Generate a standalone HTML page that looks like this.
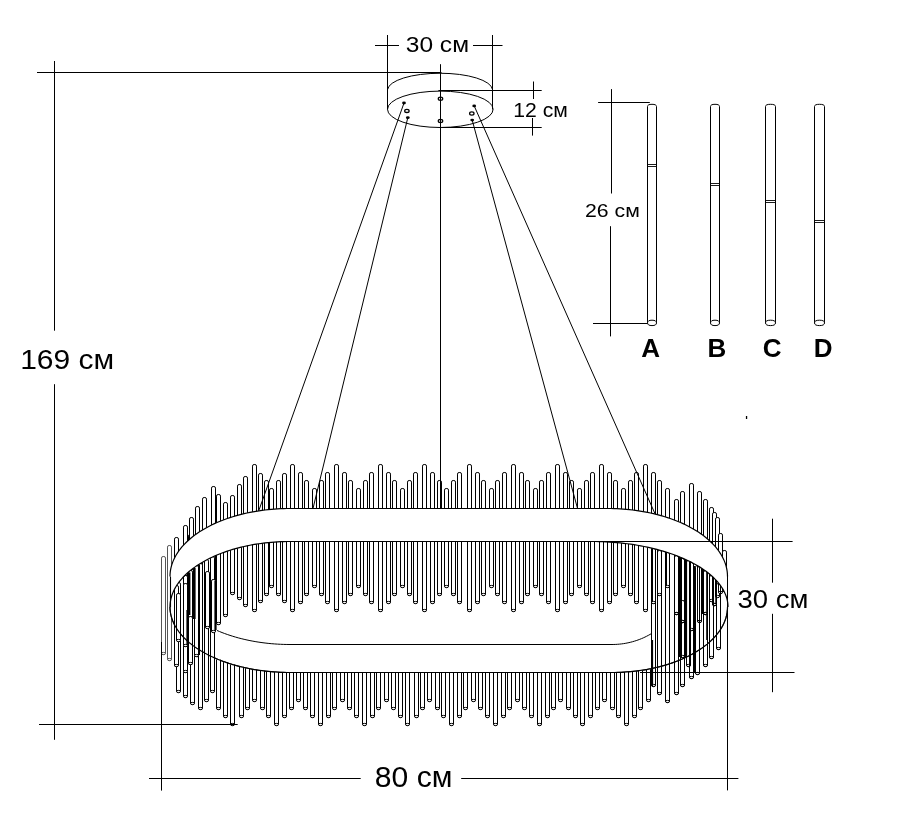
<!DOCTYPE html>
<html><head><meta charset="utf-8"><title>diagram</title>
<style>html,body{margin:0;padding:0;background:#fff;}body{width:915px;height:821px;position:relative;overflow:hidden;font-family:"Liberation Sans",sans-serif;}</style></head>
<body>
<svg width="915" height="821" viewBox="0 0 915 821" style="position:absolute;left:0;top:0;will-change:transform">
<rect width="915" height="821" fill="#fff"/>
<path d="M161.50,653.50 L161.50,558.10 Q161.50,556.50 163.10,556.50 L163.90,556.50 Q165.50,556.50 165.50,558.10 L165.50,653.50 A2.00,1.1 0 0 1 161.50,653.50" fill="#fff" stroke="#555" stroke-width="1.0"/>
<ellipse cx="163.50" cy="653.50" rx="2.00" ry="1.1" fill="#fff" stroke="#555" stroke-width="1.0"/>
<path d="M167.50,659.50 L167.50,547.10 Q167.50,545.50 169.10,545.50 L169.90,545.50 Q171.50,545.50 171.50,547.10 L171.50,659.50 A2.00,1.1 0 0 1 167.50,659.50" fill="#fff" stroke="#555" stroke-width="1.0"/>
<ellipse cx="169.50" cy="659.50" rx="2.00" ry="1.1" fill="#fff" stroke="#555" stroke-width="1.0"/>
<path d="M290.50,610.50 L290.50,466.10 Q290.50,464.50 292.10,464.50 L292.90,464.50 Q294.50,464.50 294.50,466.10 L294.50,610.50 A2.00,1.1 0 0 1 290.50,610.50" fill="#fff" stroke="#000" stroke-width="1.0"/>
<ellipse cx="292.50" cy="610.50" rx="2.00" ry="1.1" fill="#fff" stroke="#000" stroke-width="1.0"/>
<path d="M298.50,602.50 L298.50,474.10 Q298.50,472.50 300.10,472.50 L300.90,472.50 Q302.50,472.50 302.50,474.10 L302.50,602.50 A2.00,1.1 0 0 1 298.50,602.50" fill="#fff" stroke="#000" stroke-width="1.0"/>
<ellipse cx="300.50" cy="602.50" rx="2.00" ry="1.1" fill="#fff" stroke="#000" stroke-width="1.0"/>
<path d="M304.50,594.50 L304.50,482.10 Q304.50,480.50 306.10,480.50 L306.90,480.50 Q308.50,480.50 308.50,482.10 L308.50,594.50 A2.00,1.1 0 0 1 304.50,594.50" fill="#fff" stroke="#000" stroke-width="1.0"/>
<ellipse cx="306.50" cy="594.50" rx="2.00" ry="1.1" fill="#fff" stroke="#000" stroke-width="1.0"/>
<path d="M312.50,586.50 L312.50,490.10 Q312.50,488.50 314.10,488.50 L314.90,488.50 Q316.50,488.50 316.50,490.10 L316.50,586.50 A2.00,1.1 0 0 1 312.50,586.50" fill="#fff" stroke="#000" stroke-width="1.0"/>
<ellipse cx="314.50" cy="586.50" rx="2.00" ry="1.1" fill="#fff" stroke="#000" stroke-width="1.0"/>
<path d="M319.50,594.50 L319.50,482.10 Q319.50,480.50 321.10,480.50 L321.90,480.50 Q323.50,480.50 323.50,482.10 L323.50,594.50 A2.00,1.1 0 0 1 319.50,594.50" fill="#fff" stroke="#000" stroke-width="1.0"/>
<ellipse cx="321.50" cy="594.50" rx="2.00" ry="1.1" fill="#fff" stroke="#000" stroke-width="1.0"/>
<path d="M325.50,602.50 L325.50,474.10 Q325.50,472.50 327.10,472.50 L327.90,472.50 Q329.50,472.50 329.50,474.10 L329.50,602.50 A2.00,1.1 0 0 1 325.50,602.50" fill="#fff" stroke="#000" stroke-width="1.0"/>
<ellipse cx="327.50" cy="602.50" rx="2.00" ry="1.1" fill="#fff" stroke="#000" stroke-width="1.0"/>
<path d="M334.50,610.50 L334.50,466.10 Q334.50,464.50 336.10,464.50 L336.90,464.50 Q338.50,464.50 338.50,466.10 L338.50,610.50 A2.00,1.1 0 0 1 334.50,610.50" fill="#fff" stroke="#000" stroke-width="1.0"/>
<ellipse cx="336.50" cy="610.50" rx="2.00" ry="1.1" fill="#fff" stroke="#000" stroke-width="1.0"/>
<path d="M342.50,602.50 L342.50,474.10 Q342.50,472.50 344.10,472.50 L344.90,472.50 Q346.50,472.50 346.50,474.10 L346.50,602.50 A2.00,1.1 0 0 1 342.50,602.50" fill="#fff" stroke="#000" stroke-width="1.0"/>
<ellipse cx="344.50" cy="602.50" rx="2.00" ry="1.1" fill="#fff" stroke="#000" stroke-width="1.0"/>
<path d="M348.50,594.50 L348.50,482.10 Q348.50,480.50 350.10,480.50 L350.90,480.50 Q352.50,480.50 352.50,482.10 L352.50,594.50 A2.00,1.1 0 0 1 348.50,594.50" fill="#fff" stroke="#000" stroke-width="1.0"/>
<ellipse cx="350.50" cy="594.50" rx="2.00" ry="1.1" fill="#fff" stroke="#000" stroke-width="1.0"/>
<path d="M356.50,586.50 L356.50,490.10 Q356.50,488.50 358.10,488.50 L358.90,488.50 Q360.50,488.50 360.50,490.10 L360.50,586.50 A2.00,1.1 0 0 1 356.50,586.50" fill="#fff" stroke="#000" stroke-width="1.0"/>
<ellipse cx="358.50" cy="586.50" rx="2.00" ry="1.1" fill="#fff" stroke="#000" stroke-width="1.0"/>
<path d="M363.50,594.50 L363.50,482.10 Q363.50,480.50 365.10,480.50 L365.90,480.50 Q367.50,480.50 367.50,482.10 L367.50,594.50 A2.00,1.1 0 0 1 363.50,594.50" fill="#fff" stroke="#000" stroke-width="1.0"/>
<ellipse cx="365.50" cy="594.50" rx="2.00" ry="1.1" fill="#fff" stroke="#000" stroke-width="1.0"/>
<path d="M369.50,602.50 L369.50,474.10 Q369.50,472.50 371.10,472.50 L371.90,472.50 Q373.50,472.50 373.50,474.10 L373.50,602.50 A2.00,1.1 0 0 1 369.50,602.50" fill="#fff" stroke="#000" stroke-width="1.0"/>
<ellipse cx="371.50" cy="602.50" rx="2.00" ry="1.1" fill="#fff" stroke="#000" stroke-width="1.0"/>
<path d="M378.50,610.50 L378.50,466.10 Q378.50,464.50 380.10,464.50 L380.90,464.50 Q382.50,464.50 382.50,466.10 L382.50,610.50 A2.00,1.1 0 0 1 378.50,610.50" fill="#fff" stroke="#000" stroke-width="1.0"/>
<ellipse cx="380.50" cy="610.50" rx="2.00" ry="1.1" fill="#fff" stroke="#000" stroke-width="1.0"/>
<path d="M386.50,602.50 L386.50,474.10 Q386.50,472.50 388.10,472.50 L388.90,472.50 Q390.50,472.50 390.50,474.10 L390.50,602.50 A2.00,1.1 0 0 1 386.50,602.50" fill="#fff" stroke="#000" stroke-width="1.0"/>
<ellipse cx="388.50" cy="602.50" rx="2.00" ry="1.1" fill="#fff" stroke="#000" stroke-width="1.0"/>
<path d="M392.50,594.50 L392.50,482.10 Q392.50,480.50 394.10,480.50 L394.90,480.50 Q396.50,480.50 396.50,482.10 L396.50,594.50 A2.00,1.1 0 0 1 392.50,594.50" fill="#fff" stroke="#000" stroke-width="1.0"/>
<ellipse cx="394.50" cy="594.50" rx="2.00" ry="1.1" fill="#fff" stroke="#000" stroke-width="1.0"/>
<path d="M400.50,586.50 L400.50,490.10 Q400.50,488.50 402.10,488.50 L402.90,488.50 Q404.50,488.50 404.50,490.10 L404.50,586.50 A2.00,1.1 0 0 1 400.50,586.50" fill="#fff" stroke="#000" stroke-width="1.0"/>
<ellipse cx="402.50" cy="586.50" rx="2.00" ry="1.1" fill="#fff" stroke="#000" stroke-width="1.0"/>
<path d="M407.50,594.50 L407.50,482.10 Q407.50,480.50 409.10,480.50 L409.90,480.50 Q411.50,480.50 411.50,482.10 L411.50,594.50 A2.00,1.1 0 0 1 407.50,594.50" fill="#fff" stroke="#000" stroke-width="1.0"/>
<ellipse cx="409.50" cy="594.50" rx="2.00" ry="1.1" fill="#fff" stroke="#000" stroke-width="1.0"/>
<path d="M413.50,602.50 L413.50,474.10 Q413.50,472.50 415.10,472.50 L415.90,472.50 Q417.50,472.50 417.50,474.10 L417.50,602.50 A2.00,1.1 0 0 1 413.50,602.50" fill="#fff" stroke="#000" stroke-width="1.0"/>
<ellipse cx="415.50" cy="602.50" rx="2.00" ry="1.1" fill="#fff" stroke="#000" stroke-width="1.0"/>
<path d="M422.50,610.50 L422.50,466.10 Q422.50,464.50 424.10,464.50 L424.90,464.50 Q426.50,464.50 426.50,466.10 L426.50,610.50 A2.00,1.1 0 0 1 422.50,610.50" fill="#fff" stroke="#000" stroke-width="1.0"/>
<ellipse cx="424.50" cy="610.50" rx="2.00" ry="1.1" fill="#fff" stroke="#000" stroke-width="1.0"/>
<path d="M430.50,602.50 L430.50,474.10 Q430.50,472.50 432.10,472.50 L432.90,472.50 Q434.50,472.50 434.50,474.10 L434.50,602.50 A2.00,1.1 0 0 1 430.50,602.50" fill="#fff" stroke="#000" stroke-width="1.0"/>
<ellipse cx="432.50" cy="602.50" rx="2.00" ry="1.1" fill="#fff" stroke="#000" stroke-width="1.0"/>
<path d="M437.50,594.50 L437.50,482.10 Q437.50,480.50 439.10,480.50 L439.90,480.50 Q441.50,480.50 441.50,482.10 L441.50,594.50 A2.00,1.1 0 0 1 437.50,594.50" fill="#fff" stroke="#000" stroke-width="1.0"/>
<ellipse cx="439.50" cy="594.50" rx="2.00" ry="1.1" fill="#fff" stroke="#000" stroke-width="1.0"/>
<path d="M444.50,586.50 L444.50,490.10 Q444.50,488.50 446.10,488.50 L446.90,488.50 Q448.50,488.50 448.50,490.10 L448.50,586.50 A2.00,1.1 0 0 1 444.50,586.50" fill="#fff" stroke="#000" stroke-width="1.0"/>
<ellipse cx="446.50" cy="586.50" rx="2.00" ry="1.1" fill="#fff" stroke="#000" stroke-width="1.0"/>
<path d="M451.50,594.50 L451.50,482.10 Q451.50,480.50 453.10,480.50 L453.90,480.50 Q455.50,480.50 455.50,482.10 L455.50,594.50 A2.00,1.1 0 0 1 451.50,594.50" fill="#fff" stroke="#000" stroke-width="1.0"/>
<ellipse cx="453.50" cy="594.50" rx="2.00" ry="1.1" fill="#fff" stroke="#000" stroke-width="1.0"/>
<path d="M457.50,602.50 L457.50,474.10 Q457.50,472.50 459.10,472.50 L459.90,472.50 Q461.50,472.50 461.50,474.10 L461.50,602.50 A2.00,1.1 0 0 1 457.50,602.50" fill="#fff" stroke="#000" stroke-width="1.0"/>
<ellipse cx="459.50" cy="602.50" rx="2.00" ry="1.1" fill="#fff" stroke="#000" stroke-width="1.0"/>
<path d="M467.50,610.50 L467.50,466.10 Q467.50,464.50 469.10,464.50 L469.90,464.50 Q471.50,464.50 471.50,466.10 L471.50,610.50 A2.00,1.1 0 0 1 467.50,610.50" fill="#fff" stroke="#000" stroke-width="1.0"/>
<ellipse cx="469.50" cy="610.50" rx="2.00" ry="1.1" fill="#fff" stroke="#000" stroke-width="1.0"/>
<path d="M475.50,602.50 L475.50,474.10 Q475.50,472.50 477.10,472.50 L477.90,472.50 Q479.50,472.50 479.50,474.10 L479.50,602.50 A2.00,1.1 0 0 1 475.50,602.50" fill="#fff" stroke="#000" stroke-width="1.0"/>
<ellipse cx="477.50" cy="602.50" rx="2.00" ry="1.1" fill="#fff" stroke="#000" stroke-width="1.0"/>
<path d="M481.50,594.50 L481.50,482.10 Q481.50,480.50 483.10,480.50 L483.90,480.50 Q485.50,480.50 485.50,482.10 L485.50,594.50 A2.00,1.1 0 0 1 481.50,594.50" fill="#fff" stroke="#000" stroke-width="1.0"/>
<ellipse cx="483.50" cy="594.50" rx="2.00" ry="1.1" fill="#fff" stroke="#000" stroke-width="1.0"/>
<path d="M489.50,586.50 L489.50,490.10 Q489.50,488.50 491.10,488.50 L491.90,488.50 Q493.50,488.50 493.50,490.10 L493.50,586.50 A2.00,1.1 0 0 1 489.50,586.50" fill="#fff" stroke="#000" stroke-width="1.0"/>
<ellipse cx="491.50" cy="586.50" rx="2.00" ry="1.1" fill="#fff" stroke="#000" stroke-width="1.0"/>
<path d="M495.50,594.50 L495.50,482.10 Q495.50,480.50 497.10,480.50 L497.90,480.50 Q499.50,480.50 499.50,482.10 L499.50,594.50 A2.00,1.1 0 0 1 495.50,594.50" fill="#fff" stroke="#000" stroke-width="1.0"/>
<ellipse cx="497.50" cy="594.50" rx="2.00" ry="1.1" fill="#fff" stroke="#000" stroke-width="1.0"/>
<path d="M502.50,602.50 L502.50,474.10 Q502.50,472.50 504.10,472.50 L504.90,472.50 Q506.50,472.50 506.50,474.10 L506.50,602.50 A2.00,1.1 0 0 1 502.50,602.50" fill="#fff" stroke="#000" stroke-width="1.0"/>
<ellipse cx="504.50" cy="602.50" rx="2.00" ry="1.1" fill="#fff" stroke="#000" stroke-width="1.0"/>
<path d="M511.50,610.50 L511.50,466.10 Q511.50,464.50 513.10,464.50 L513.90,464.50 Q515.50,464.50 515.50,466.10 L515.50,610.50 A2.00,1.1 0 0 1 511.50,610.50" fill="#fff" stroke="#000" stroke-width="1.0"/>
<ellipse cx="513.50" cy="610.50" rx="2.00" ry="1.1" fill="#fff" stroke="#000" stroke-width="1.0"/>
<path d="M519.50,602.50 L519.50,474.10 Q519.50,472.50 521.10,472.50 L521.90,472.50 Q523.50,472.50 523.50,474.10 L523.50,602.50 A2.00,1.1 0 0 1 519.50,602.50" fill="#fff" stroke="#000" stroke-width="1.0"/>
<ellipse cx="521.50" cy="602.50" rx="2.00" ry="1.1" fill="#fff" stroke="#000" stroke-width="1.0"/>
<path d="M525.50,594.50 L525.50,482.10 Q525.50,480.50 527.10,480.50 L527.90,480.50 Q529.50,480.50 529.50,482.10 L529.50,594.50 A2.00,1.1 0 0 1 525.50,594.50" fill="#fff" stroke="#000" stroke-width="1.0"/>
<ellipse cx="527.50" cy="594.50" rx="2.00" ry="1.1" fill="#fff" stroke="#000" stroke-width="1.0"/>
<path d="M533.50,586.50 L533.50,490.10 Q533.50,488.50 535.10,488.50 L535.90,488.50 Q537.50,488.50 537.50,490.10 L537.50,586.50 A2.00,1.1 0 0 1 533.50,586.50" fill="#fff" stroke="#000" stroke-width="1.0"/>
<ellipse cx="535.50" cy="586.50" rx="2.00" ry="1.1" fill="#fff" stroke="#000" stroke-width="1.0"/>
<path d="M539.50,594.50 L539.50,482.10 Q539.50,480.50 541.10,480.50 L541.90,480.50 Q543.50,480.50 543.50,482.10 L543.50,594.50 A2.00,1.1 0 0 1 539.50,594.50" fill="#fff" stroke="#000" stroke-width="1.0"/>
<ellipse cx="541.50" cy="594.50" rx="2.00" ry="1.1" fill="#fff" stroke="#000" stroke-width="1.0"/>
<path d="M546.50,602.50 L546.50,474.10 Q546.50,472.50 548.10,472.50 L548.90,472.50 Q550.50,472.50 550.50,474.10 L550.50,602.50 A2.00,1.1 0 0 1 546.50,602.50" fill="#fff" stroke="#000" stroke-width="1.0"/>
<ellipse cx="548.50" cy="602.50" rx="2.00" ry="1.1" fill="#fff" stroke="#000" stroke-width="1.0"/>
<path d="M555.50,610.50 L555.50,466.10 Q555.50,464.50 557.10,464.50 L557.90,464.50 Q559.50,464.50 559.50,466.10 L559.50,610.50 A2.00,1.1 0 0 1 555.50,610.50" fill="#fff" stroke="#000" stroke-width="1.0"/>
<ellipse cx="557.50" cy="610.50" rx="2.00" ry="1.1" fill="#fff" stroke="#000" stroke-width="1.0"/>
<path d="M563.50,602.50 L563.50,474.10 Q563.50,472.50 565.10,472.50 L565.90,472.50 Q567.50,472.50 567.50,474.10 L567.50,602.50 A2.00,1.1 0 0 1 563.50,602.50" fill="#fff" stroke="#000" stroke-width="1.0"/>
<ellipse cx="565.50" cy="602.50" rx="2.00" ry="1.1" fill="#fff" stroke="#000" stroke-width="1.0"/>
<path d="M569.50,594.50 L569.50,482.10 Q569.50,480.50 571.10,480.50 L571.90,480.50 Q573.50,480.50 573.50,482.10 L573.50,594.50 A2.00,1.1 0 0 1 569.50,594.50" fill="#fff" stroke="#000" stroke-width="1.0"/>
<ellipse cx="571.50" cy="594.50" rx="2.00" ry="1.1" fill="#fff" stroke="#000" stroke-width="1.0"/>
<path d="M577.50,586.50 L577.50,490.10 Q577.50,488.50 579.10,488.50 L579.90,488.50 Q581.50,488.50 581.50,490.10 L581.50,586.50 A2.00,1.1 0 0 1 577.50,586.50" fill="#fff" stroke="#000" stroke-width="1.0"/>
<ellipse cx="579.50" cy="586.50" rx="2.00" ry="1.1" fill="#fff" stroke="#000" stroke-width="1.0"/>
<path d="M584.50,594.50 L584.50,482.10 Q584.50,480.50 586.10,480.50 L586.90,480.50 Q588.50,480.50 588.50,482.10 L588.50,594.50 A2.00,1.1 0 0 1 584.50,594.50" fill="#fff" stroke="#000" stroke-width="1.0"/>
<ellipse cx="586.50" cy="594.50" rx="2.00" ry="1.1" fill="#fff" stroke="#000" stroke-width="1.0"/>
<path d="M590.50,602.50 L590.50,474.10 Q590.50,472.50 592.10,472.50 L592.90,472.50 Q594.50,472.50 594.50,474.10 L594.50,602.50 A2.00,1.1 0 0 1 590.50,602.50" fill="#fff" stroke="#000" stroke-width="1.0"/>
<ellipse cx="592.50" cy="602.50" rx="2.00" ry="1.1" fill="#fff" stroke="#000" stroke-width="1.0"/>
<path d="M599.50,610.50 L599.50,466.10 Q599.50,464.50 601.10,464.50 L601.90,464.50 Q603.50,464.50 603.50,466.10 L603.50,610.50 A2.00,1.1 0 0 1 599.50,610.50" fill="#fff" stroke="#000" stroke-width="1.0"/>
<ellipse cx="601.50" cy="610.50" rx="2.00" ry="1.1" fill="#fff" stroke="#000" stroke-width="1.0"/>
<path d="M607.50,602.50 L607.50,474.10 Q607.50,472.50 609.10,472.50 L609.90,472.50 Q611.50,472.50 611.50,474.10 L611.50,602.50 A2.00,1.1 0 0 1 607.50,602.50" fill="#fff" stroke="#000" stroke-width="1.0"/>
<ellipse cx="609.50" cy="602.50" rx="2.00" ry="1.1" fill="#fff" stroke="#000" stroke-width="1.0"/>
<path d="M613.50,594.50 L613.50,482.10 Q613.50,480.50 615.10,480.50 L615.90,480.50 Q617.50,480.50 617.50,482.10 L617.50,594.50 A2.00,1.1 0 0 1 613.50,594.50" fill="#fff" stroke="#000" stroke-width="1.0"/>
<ellipse cx="615.50" cy="594.50" rx="2.00" ry="1.1" fill="#fff" stroke="#000" stroke-width="1.0"/>
<path d="M621.50,586.50 L621.50,490.10 Q621.50,488.50 623.10,488.50 L623.90,488.50 Q625.50,488.50 625.50,490.10 L625.50,586.50 A2.00,1.1 0 0 1 621.50,586.50" fill="#fff" stroke="#000" stroke-width="1.0"/>
<ellipse cx="623.50" cy="586.50" rx="2.00" ry="1.1" fill="#fff" stroke="#000" stroke-width="1.0"/>
<path d="M628.50,594.50 L628.50,482.10 Q628.50,480.50 630.10,480.50 L630.90,480.50 Q632.50,480.50 632.50,482.10 L632.50,594.50 A2.00,1.1 0 0 1 628.50,594.50" fill="#fff" stroke="#000" stroke-width="1.0"/>
<ellipse cx="630.50" cy="594.50" rx="2.00" ry="1.1" fill="#fff" stroke="#000" stroke-width="1.0"/>
<path d="M634.50,602.50 L634.50,474.10 Q634.50,472.50 636.10,472.50 L636.90,472.50 Q638.50,472.50 638.50,474.10 L638.50,602.50 A2.00,1.1 0 0 1 634.50,602.50" fill="#fff" stroke="#000" stroke-width="1.0"/>
<ellipse cx="636.50" cy="602.50" rx="2.00" ry="1.1" fill="#fff" stroke="#000" stroke-width="1.0"/>
<path d="M643.50,610.50 L643.50,466.10 Q643.50,464.50 645.10,464.50 L645.90,464.50 Q647.50,464.50 647.50,466.10 L647.50,610.50 A2.00,1.1 0 0 1 643.50,610.50" fill="#fff" stroke="#000" stroke-width="1.0"/>
<ellipse cx="645.50" cy="610.50" rx="2.00" ry="1.1" fill="#fff" stroke="#000" stroke-width="1.0"/>
<path d="M651.50,602.50 L651.50,474.10 Q651.50,472.50 653.10,472.50 L653.90,472.50 Q655.50,472.50 655.50,474.10 L655.50,602.50 A2.00,1.1 0 0 1 651.50,602.50" fill="#fff" stroke="#000" stroke-width="1.0"/>
<ellipse cx="653.50" cy="602.50" rx="2.00" ry="1.1" fill="#fff" stroke="#000" stroke-width="1.0"/>
<path d="M657.50,594.50 L657.50,482.10 Q657.50,480.50 659.10,480.50 L659.90,480.50 Q661.50,480.50 661.50,482.10 L661.50,594.50 A2.00,1.1 0 0 1 657.50,594.50" fill="#fff" stroke="#000" stroke-width="1.0"/>
<ellipse cx="659.50" cy="594.50" rx="2.00" ry="1.1" fill="#fff" stroke="#000" stroke-width="1.0"/>
<path d="M665.50,586.50 L665.50,490.10 Q665.50,488.50 667.10,488.50 L667.90,488.50 Q669.50,488.50 669.50,490.10 L669.50,586.50 A2.00,1.1 0 0 1 665.50,586.50" fill="#fff" stroke="#000" stroke-width="1.0"/>
<ellipse cx="667.50" cy="586.50" rx="2.00" ry="1.1" fill="#fff" stroke="#000" stroke-width="1.0"/>
<path d="M188.50,575.50 L188.50,536.10 Q188.50,534.50 190.10,534.50 L190.90,534.50 Q192.50,534.50 192.50,536.10 L192.50,575.50 A2.00,1.1 0 0 1 188.50,575.50" fill="#fff" stroke="#000" stroke-width="1.0"/>
<ellipse cx="190.50" cy="575.50" rx="2.00" ry="1.1" fill="#fff" stroke="#000" stroke-width="1.0"/>
<path d="M252.50,610.50 L252.50,466.10 Q252.50,464.50 254.10,464.50 L254.90,464.50 Q256.50,464.50 256.50,466.10 L256.50,610.50 A2.00,1.1 0 0 1 252.50,610.50" fill="#fff" stroke="#000" stroke-width="1.0"/>
<ellipse cx="254.50" cy="610.50" rx="2.00" ry="1.1" fill="#fff" stroke="#000" stroke-width="1.0"/>
<path d="M258.50,601.50 L258.50,475.10 Q258.50,473.50 260.10,473.50 L260.90,473.50 Q262.50,473.50 262.50,475.10 L262.50,601.50 A2.00,1.1 0 0 1 258.50,601.50" fill="#fff" stroke="#000" stroke-width="1.0"/>
<ellipse cx="260.50" cy="601.50" rx="2.00" ry="1.1" fill="#fff" stroke="#000" stroke-width="1.0"/>
<path d="M264.50,594.50 L264.50,482.10 Q264.50,480.50 266.10,480.50 L266.90,480.50 Q268.50,480.50 268.50,482.10 L268.50,594.50 A2.00,1.1 0 0 1 264.50,594.50" fill="#fff" stroke="#000" stroke-width="1.0"/>
<ellipse cx="266.50" cy="594.50" rx="2.00" ry="1.1" fill="#fff" stroke="#000" stroke-width="1.0"/>
<path d="M269.50,586.50 L269.50,490.10 Q269.50,488.50 271.10,488.50 L271.90,488.50 Q273.50,488.50 273.50,490.10 L273.50,586.50 A2.00,1.1 0 0 1 269.50,586.50" fill="#fff" stroke="#000" stroke-width="1.0"/>
<ellipse cx="271.50" cy="586.50" rx="2.00" ry="1.1" fill="#fff" stroke="#000" stroke-width="1.0"/>
<path d="M276.50,594.50 L276.50,482.10 Q276.50,480.50 278.10,480.50 L278.90,480.50 Q280.50,480.50 280.50,482.10 L280.50,594.50 A2.00,1.1 0 0 1 276.50,594.50" fill="#fff" stroke="#000" stroke-width="1.0"/>
<ellipse cx="278.50" cy="594.50" rx="2.00" ry="1.1" fill="#fff" stroke="#000" stroke-width="1.0"/>
<path d="M282.50,601.50 L282.50,475.10 Q282.50,473.50 284.10,473.50 L284.90,473.50 Q286.50,473.50 286.50,475.10 L286.50,601.50 A2.00,1.1 0 0 1 282.50,601.50" fill="#fff" stroke="#000" stroke-width="1.0"/>
<ellipse cx="284.50" cy="601.50" rx="2.00" ry="1.1" fill="#fff" stroke="#000" stroke-width="1.0"/>
<path d="M243.50,605.50 L243.50,478.10 Q243.50,476.50 245.10,476.50 L245.90,476.50 Q247.50,476.50 247.50,478.10 L247.50,605.50 A2.00,1.1 0 0 1 243.50,605.50" fill="#fff" stroke="#000" stroke-width="1.0"/>
<ellipse cx="245.50" cy="605.50" rx="2.00" ry="1.1" fill="#fff" stroke="#000" stroke-width="1.0"/>
<path d="M237.50,598.50 L237.50,486.10 Q237.50,484.50 239.10,484.50 L239.90,484.50 Q241.50,484.50 241.50,486.10 L241.50,598.50 A2.00,1.1 0 0 1 237.50,598.50" fill="#fff" stroke="#000" stroke-width="1.0"/>
<ellipse cx="239.50" cy="598.50" rx="2.00" ry="1.1" fill="#fff" stroke="#000" stroke-width="1.0"/>
<path d="M230.50,593.50 L230.50,497.10 Q230.50,495.50 232.10,495.50 L232.90,495.50 Q234.50,495.50 234.50,497.10 L234.50,593.50 A2.00,1.1 0 0 1 230.50,593.50" fill="#fff" stroke="#000" stroke-width="1.0"/>
<ellipse cx="232.50" cy="593.50" rx="2.00" ry="1.1" fill="#fff" stroke="#000" stroke-width="1.0"/>
<path d="M223.50,615.50 L223.50,504.10 Q223.50,502.50 225.10,502.50 L225.90,502.50 Q227.50,502.50 227.50,504.10 L227.50,615.50 A2.00,1.1 0 0 1 223.50,615.50" fill="#fff" stroke="#000" stroke-width="1.0"/>
<ellipse cx="225.50" cy="615.50" rx="2.00" ry="1.1" fill="#fff" stroke="#000" stroke-width="1.0"/>
<path d="M216.50,623.50 L216.50,496.10 Q216.50,494.50 218.10,494.50 L218.90,494.50 Q220.50,494.50 220.50,496.10 L220.50,623.50 A2.00,1.1 0 0 1 216.50,623.50" fill="#fff" stroke="#000" stroke-width="1.0"/>
<ellipse cx="218.50" cy="623.50" rx="2.00" ry="1.1" fill="#fff" stroke="#000" stroke-width="1.0"/>
<path d="M211.50,631.50 L211.50,488.10 Q211.50,486.50 213.10,486.50 L213.90,486.50 Q215.50,486.50 215.50,488.10 L215.50,631.50 A2.00,1.1 0 0 1 211.50,631.50" fill="#fff" stroke="#000" stroke-width="1.0"/>
<ellipse cx="213.50" cy="631.50" rx="2.00" ry="1.1" fill="#fff" stroke="#000" stroke-width="1.0"/>
<path d="M202.50,627.50 L202.50,499.10 Q202.50,497.50 204.10,497.50 L204.90,497.50 Q206.50,497.50 206.50,499.10 L206.50,627.50 A2.00,1.1 0 0 1 202.50,627.50" fill="#fff" stroke="#000" stroke-width="1.0"/>
<ellipse cx="204.50" cy="627.50" rx="2.00" ry="1.1" fill="#fff" stroke="#000" stroke-width="1.0"/>
<path d="M195.50,655.50 L195.50,508.10 Q195.50,506.50 197.10,506.50 L197.90,506.50 Q199.50,506.50 199.50,508.10 L199.50,655.50 A2.00,1.1 0 0 1 195.50,655.50" fill="#fff" stroke="#000" stroke-width="1.0"/>
<ellipse cx="197.50" cy="655.50" rx="2.00" ry="1.1" fill="#fff" stroke="#000" stroke-width="1.0"/>
<path d="M189.50,663.50 L189.50,519.10 Q189.50,517.50 191.10,517.50 L191.90,517.50 Q193.50,517.50 193.50,519.10 L193.50,663.50 A2.00,1.1 0 0 1 189.50,663.50" fill="#fff" stroke="#000" stroke-width="1.0"/>
<ellipse cx="191.50" cy="663.50" rx="2.00" ry="1.1" fill="#fff" stroke="#000" stroke-width="1.0"/>
<path d="M183.50,671.50 L183.50,527.10 Q183.50,525.50 185.10,525.50 L185.90,525.50 Q187.50,525.50 187.50,527.10 L187.50,671.50 A2.00,1.1 0 0 1 183.50,671.50" fill="#fff" stroke="#000" stroke-width="1.0"/>
<ellipse cx="185.50" cy="671.50" rx="2.00" ry="1.1" fill="#fff" stroke="#000" stroke-width="1.0"/>
<path d="M174.50,665.50 L174.50,539.10 Q174.50,537.50 176.10,537.50 L176.90,537.50 Q178.50,537.50 178.50,539.10 L178.50,665.50 A2.00,1.1 0 0 1 174.50,665.50" fill="#fff" stroke="#000" stroke-width="1.0"/>
<ellipse cx="176.50" cy="665.50" rx="2.00" ry="1.1" fill="#fff" stroke="#000" stroke-width="1.0"/>
<path d="M674.50,613.50 L674.50,501.10 Q674.50,499.50 676.10,499.50 L676.90,499.50 Q678.50,499.50 678.50,501.10 L678.50,613.50 A2.00,1.1 0 0 1 674.50,613.50" fill="#fff" stroke="#000" stroke-width="1.0"/>
<ellipse cx="676.50" cy="613.50" rx="2.00" ry="1.1" fill="#fff" stroke="#000" stroke-width="1.0"/>
<path d="M680.50,621.50 L680.50,493.10 Q680.50,491.50 682.10,491.50 L682.90,491.50 Q684.50,491.50 684.50,493.10 L684.50,621.50 A2.00,1.1 0 0 1 680.50,621.50" fill="#fff" stroke="#000" stroke-width="1.0"/>
<ellipse cx="682.50" cy="621.50" rx="2.00" ry="1.1" fill="#fff" stroke="#000" stroke-width="1.0"/>
<path d="M689.50,629.50 L689.50,485.10 Q689.50,483.50 691.10,483.50 L691.90,483.50 Q693.50,483.50 693.50,485.10 L693.50,629.50 A2.00,1.1 0 0 1 689.50,629.50" fill="#fff" stroke="#000" stroke-width="1.0"/>
<ellipse cx="691.50" cy="629.50" rx="2.00" ry="1.1" fill="#fff" stroke="#000" stroke-width="1.0"/>
<path d="M697.50,621.50 L697.50,493.10 Q697.50,491.50 699.10,491.50 L699.90,491.50 Q701.50,491.50 701.50,493.10 L701.50,621.50 A2.00,1.1 0 0 1 697.50,621.50" fill="#fff" stroke="#000" stroke-width="1.0"/>
<ellipse cx="699.50" cy="621.50" rx="2.00" ry="1.1" fill="#fff" stroke="#000" stroke-width="1.0"/>
<path d="M703.50,613.50 L703.50,501.10 Q703.50,499.50 705.10,499.50 L705.90,499.50 Q707.50,499.50 707.50,501.10 L707.50,613.50 A2.00,1.1 0 0 1 703.50,613.50" fill="#fff" stroke="#000" stroke-width="1.0"/>
<ellipse cx="705.50" cy="613.50" rx="2.00" ry="1.1" fill="#fff" stroke="#000" stroke-width="1.0"/>
<path d="M709.50,600.50 L709.50,509.10 Q709.50,507.50 711.10,507.50 L711.90,507.50 Q713.50,507.50 713.50,509.10 L713.50,600.50 A2.00,1.1 0 0 1 709.50,600.50" fill="#fff" stroke="#000" stroke-width="1.0"/>
<ellipse cx="711.50" cy="600.50" rx="2.00" ry="1.1" fill="#fff" stroke="#000" stroke-width="1.0"/>
<path d="M712.50,604.50 L712.50,514.10 Q712.50,512.50 714.10,512.50 L714.90,512.50 Q716.50,512.50 716.50,514.10 L716.50,604.50 A2.00,1.1 0 0 1 712.50,604.50" fill="#fff" stroke="#000" stroke-width="1.0"/>
<ellipse cx="714.50" cy="604.50" rx="2.00" ry="1.1" fill="#fff" stroke="#000" stroke-width="1.0"/>
<path d="M715.50,596.50 L715.50,519.10 Q715.50,517.50 717.10,517.50 L717.90,517.50 Q719.50,517.50 719.50,519.10 L719.50,596.50 A2.00,1.1 0 0 1 715.50,596.50" fill="#fff" stroke="#000" stroke-width="1.0"/>
<ellipse cx="717.50" cy="596.50" rx="2.00" ry="1.1" fill="#fff" stroke="#000" stroke-width="1.0"/>
<path d="M718.50,592.50 L718.50,535.10 Q718.50,533.50 720.10,533.50 L720.90,533.50 Q722.50,533.50 722.50,535.10 L722.50,592.50 A2.00,1.1 0 0 1 718.50,592.50" fill="#fff" stroke="#000" stroke-width="1.0"/>
<ellipse cx="720.50" cy="592.50" rx="2.00" ry="1.1" fill="#fff" stroke="#000" stroke-width="1.0"/>
<path d="M722.50,590.50 L722.50,552.10 Q722.50,550.50 724.10,550.50 L724.90,550.50 Q726.50,550.50 726.50,552.10 L726.50,590.50 A2.00,1.1 0 0 1 722.50,590.50" fill="#fff" stroke="#000" stroke-width="1.0"/>
<ellipse cx="724.50" cy="590.50" rx="2.00" ry="1.1" fill="#fff" stroke="#000" stroke-width="1.0"/>
<path d="M727.50,576.50 L727.46,578.28 L727.34,580.06 L727.13,581.84 L726.84,583.61 L726.47,585.38 L726.02,587.14 L725.49,588.89 L724.88,590.64 L724.18,592.37 L723.41,594.10 L722.56,595.81 L721.63,597.51 L720.62,599.20 L719.53,600.87 L718.37,602.52 L717.13,604.16 L715.81,605.77 L714.42,607.37 L712.96,608.95 L711.42,610.50 L709.82,612.03 L708.14,613.54 L706.40,615.02 L704.58,616.47 L702.70,617.90 L700.76,619.29 L698.75,620.66 L696.68,622.00 L694.54,623.31 L692.35,624.58 L690.10,625.83 L687.80,627.03 L685.43,628.21 L683.02,629.35 L680.55,630.45 L678.03,631.51 L675.47,632.54 L672.86,633.53 L670.20,634.48 L667.50,635.39 L664.76,636.26 L661.98,637.09 L659.16,637.88 L656.31,638.62 L653.42,639.32 L650.50,639.98 L647.56,640.60 L644.58,641.17 L641.58,641.70 L638.56,642.18 L635.51,642.62 L632.45,643.01 L629.37,643.36 L626.27,643.66 L623.16,643.92 L620.04,644.13 L616.92,644.29 L613.78,644.41 L610.64,644.48 L607.50,644.50 L290.00,644.50 L286.86,644.48 L283.72,644.41 L280.58,644.29 L277.46,644.13 L274.34,643.92 L271.23,643.66 L268.13,643.36 L265.05,643.01 L261.99,642.62 L258.94,642.18 L255.92,641.70 L252.92,641.17 L249.94,640.60 L247.00,639.98 L244.08,639.32 L241.19,638.62 L238.34,637.88 L235.52,637.09 L232.74,636.26 L230.00,635.39 L227.30,634.48 L224.64,633.53 L222.03,632.54 L219.47,631.51 L216.95,630.45 L214.48,629.35 L212.07,628.21 L209.70,627.03 L207.40,625.83 L205.15,624.58 L202.96,623.31 L200.82,622.00 L198.75,620.66 L196.74,619.29 L194.80,617.90 L192.92,616.47 L191.10,615.02 L189.36,613.54 L187.68,612.03 L186.08,610.50 L184.54,608.95 L183.08,607.37 L181.69,605.77 L180.37,604.16 L179.13,602.52 L177.97,600.87 L176.88,599.20 L175.87,597.51 L174.94,595.81 L174.09,594.10 L173.32,592.37 L172.62,590.64 L172.01,588.89 L171.48,587.14 L171.03,585.38 L170.66,583.61 L170.37,581.84 L170.16,580.06 L170.04,578.28 L170.00,576.50 L170,607.0 L170.00,607.00 L170.04,608.71 L170.16,610.43 L170.37,612.14 L170.66,613.85 L171.03,615.55 L171.48,617.25 L172.01,618.94 L172.62,620.62 L173.32,622.29 L174.09,623.95 L174.94,625.60 L175.87,627.24 L176.88,628.86 L177.97,630.47 L179.13,632.07 L180.37,633.64 L181.69,635.20 L183.08,636.74 L184.54,638.25 L186.08,639.75 L187.68,641.22 L189.36,642.67 L191.10,644.10 L192.92,645.50 L194.80,646.87 L196.74,648.22 L198.75,649.54 L200.82,650.83 L202.96,652.09 L205.15,653.32 L207.40,654.51 L209.70,655.68 L212.07,656.81 L214.48,657.90 L216.95,658.96 L219.47,659.99 L222.03,660.98 L224.64,661.93 L227.30,662.85 L230.00,663.72 L232.74,664.56 L235.52,665.36 L238.34,666.12 L241.19,666.84 L244.08,667.51 L247.00,668.15 L249.94,668.74 L252.92,669.29 L255.92,669.80 L258.94,670.27 L261.99,670.69 L265.05,671.07 L268.13,671.40 L271.23,671.69 L274.34,671.94 L277.46,672.14 L280.58,672.30 L283.72,672.41 L286.86,672.48 L290.00,672.50 L612.00,672.50 L615.02,672.48 L618.04,672.41 L621.06,672.30 L624.07,672.14 L627.08,671.94 L630.07,671.69 L633.05,671.40 L636.01,671.07 L638.96,670.69 L641.89,670.27 L644.80,669.80 L647.69,669.29 L650.55,668.74 L653.39,668.15 L656.20,667.51 L658.98,666.84 L661.72,666.12 L664.44,665.36 L667.11,664.56 L669.75,663.72 L672.35,662.85 L674.91,661.93 L677.42,660.98 L679.89,659.99 L682.31,658.96 L684.69,657.90 L687.01,656.81 L689.28,655.68 L691.50,654.51 L693.67,653.32 L695.78,652.09 L697.83,650.83 L699.83,649.54 L701.76,648.22 L703.63,646.87 L705.44,645.50 L707.19,644.10 L708.87,642.67 L710.48,641.22 L712.03,639.75 L713.50,638.25 L714.91,636.74 L716.25,635.20 L717.51,633.64 L718.71,632.07 L719.83,630.47 L720.88,628.86 L721.85,627.24 L722.74,625.60 L723.56,623.95 L724.31,622.29 L724.98,620.62 L725.57,618.94 L726.08,617.25 L726.51,615.55 L726.87,613.85 L727.14,612.14 L727.34,610.43 L727.46,608.71 L727.50,607.00 Z" fill="#fff" stroke="none"/>
<path d="M727.50,607.00 L727.46,608.71 L727.34,610.43 L727.14,612.14 L726.87,613.85 L726.51,615.55 L726.08,617.25 L725.57,618.94 L724.98,620.62 L724.31,622.29 L723.56,623.95 L722.74,625.60 L721.85,627.24 L720.88,628.86 L719.83,630.47 L718.71,632.07 L717.51,633.64 L716.25,635.20 L714.91,636.74 L713.50,638.25 L712.03,639.75 L710.48,641.22 L708.87,642.67 L707.19,644.10 L705.44,645.50 L703.63,646.87 L701.76,648.22 L699.83,649.54 L697.83,650.83 L695.78,652.09 L693.67,653.32 L691.50,654.51 L689.28,655.68 L687.01,656.81 L684.69,657.90 L682.31,658.96 L679.89,659.99 L677.42,660.98 L674.91,661.93 L672.35,662.85 L669.75,663.72 L667.11,664.56 L664.44,665.36 L661.72,666.12 L658.98,666.84 L656.20,667.51 L653.39,668.15 L650.55,668.74 L647.69,669.29 L644.80,669.80 L641.89,670.27 L638.96,670.69 L636.01,671.07 L633.05,671.40 L630.07,671.69 L627.08,671.94 L624.07,672.14 L621.06,672.30 L618.04,672.41 L615.02,672.48 L612.00,672.50 L290.00,672.50 L286.86,672.48 L283.72,672.41 L280.58,672.30 L277.46,672.14 L274.34,671.94 L271.23,671.69 L268.13,671.40 L265.05,671.07 L261.99,670.69 L258.94,670.27 L255.92,669.80 L252.92,669.29 L249.94,668.74 L247.00,668.15 L244.08,667.51 L241.19,666.84 L238.34,666.12 L235.52,665.36 L232.74,664.56 L230.00,663.72 L227.30,662.85 L224.64,661.93 L222.03,660.98 L219.47,659.99 L216.95,658.96 L214.48,657.90 L212.07,656.81 L209.70,655.68 L207.40,654.51 L205.15,653.32 L202.96,652.09 L200.82,650.83 L198.75,649.54 L196.74,648.22 L194.80,646.87 L192.92,645.50 L191.10,644.10 L189.36,642.67 L187.68,641.22 L186.08,639.75 L184.54,638.25 L183.08,636.74 L181.69,635.20 L180.37,633.64 L179.13,632.07 L177.97,630.47 L176.88,628.86 L175.87,627.24 L174.94,625.60 L174.09,623.95 L173.32,622.29 L172.62,620.62 L172.01,618.94 L171.48,617.25 L171.03,615.55 L170.66,613.85 L170.37,612.14 L170.16,610.43 L170.04,608.71 L170.00,607.00 " fill="none" stroke="#000" stroke-width="1"/>
<path d="M651.54,633.53 L649.93,634.48 L648.30,635.39 L646.64,636.26 L644.96,637.09 L643.26,637.88 L641.53,638.62 L639.78,639.32 L638.02,639.98 L636.23,640.60 L634.43,641.17 L632.62,641.70 L630.79,642.18 L628.95,642.62 L627.09,643.01 L625.23,643.36 L623.36,643.66 L621.48,643.92 L619.59,644.13 L617.70,644.29 L615.80,644.41 L613.90,644.48 L612.00,644.50  L290.00,644.50 L286.86,644.48 L283.72,644.41 L280.58,644.29 L277.46,644.13 L274.34,643.92 L271.23,643.66 L268.13,643.36 L265.05,643.01 L261.99,642.62 L258.94,642.18 L255.92,641.70 L252.92,641.17 L249.94,640.60 L247.00,639.98 L244.08,639.32 L241.19,638.62 L238.34,637.88 L235.52,637.09 L232.74,636.26 L230.00,635.39 L227.30,634.48 L224.64,633.53 L222.03,632.54 L219.47,631.51 L216.95,630.45 " fill="none" stroke="#000" stroke-width="1"/>
<path d="M216.50,659.61 L216.50,708.50 A2.00,1.1 0 0 0 220.50,708.50 L220.50,659.61" fill="#fff" stroke="#000" stroke-width="1.0"/>
<ellipse cx="218.50" cy="708.50" rx="2.00" ry="1.1" fill="#fff" stroke="#000" stroke-width="1.0"/>
<path d="M223.50,662.13 L223.50,716.50 A2.00,1.1 0 0 0 227.50,716.50 L227.50,662.13" fill="#fff" stroke="#000" stroke-width="1.0"/>
<ellipse cx="225.50" cy="716.50" rx="2.00" ry="1.1" fill="#fff" stroke="#000" stroke-width="1.0"/>
<path d="M230.50,664.62 L230.50,724.50 A2.00,1.1 0 0 0 234.50,724.50 L234.50,664.62" fill="#fff" stroke="#000" stroke-width="1.0"/>
<ellipse cx="232.50" cy="724.50" rx="2.00" ry="1.1" fill="#fff" stroke="#000" stroke-width="1.0"/>
<path d="M239.50,666.82 L239.50,716.50 A2.00,1.1 0 0 0 243.50,716.50 L243.50,666.82" fill="#fff" stroke="#000" stroke-width="1.0"/>
<ellipse cx="241.50" cy="716.50" rx="2.00" ry="1.1" fill="#fff" stroke="#000" stroke-width="1.0"/>
<path d="M245.50,668.22 L245.50,708.50 A2.00,1.1 0 0 0 249.50,708.50 L249.50,668.22" fill="#fff" stroke="#000" stroke-width="1.0"/>
<ellipse cx="247.50" cy="708.50" rx="2.00" ry="1.1" fill="#fff" stroke="#000" stroke-width="1.0"/>
<path d="M252.50,669.63 L252.50,700.50 A2.00,1.1 0 0 0 256.50,700.50 L256.50,669.63" fill="#fff" stroke="#000" stroke-width="1.0"/>
<ellipse cx="254.50" cy="700.50" rx="2.00" ry="1.1" fill="#fff" stroke="#000" stroke-width="1.0"/>
<path d="M260.50,670.72 L260.50,708.50 A2.00,1.1 0 0 0 264.50,708.50 L264.50,670.72" fill="#fff" stroke="#000" stroke-width="1.0"/>
<ellipse cx="262.50" cy="708.50" rx="2.00" ry="1.1" fill="#fff" stroke="#000" stroke-width="1.0"/>
<path d="M266.50,671.48 L266.50,716.50 A2.00,1.1 0 0 0 270.50,716.50 L270.50,671.48" fill="#fff" stroke="#000" stroke-width="1.0"/>
<ellipse cx="268.50" cy="716.50" rx="2.00" ry="1.1" fill="#fff" stroke="#000" stroke-width="1.0"/>
<path d="M274.50,672.09 L274.50,724.50 A2.00,1.1 0 0 0 278.50,724.50 L278.50,672.09" fill="#fff" stroke="#000" stroke-width="1.0"/>
<ellipse cx="276.50" cy="724.50" rx="2.00" ry="1.1" fill="#fff" stroke="#000" stroke-width="1.0"/>
<path d="M282.50,672.44 L282.50,716.50 A2.00,1.1 0 0 0 286.50,716.50 L286.50,672.44" fill="#fff" stroke="#000" stroke-width="1.0"/>
<ellipse cx="284.50" cy="716.50" rx="2.00" ry="1.1" fill="#fff" stroke="#000" stroke-width="1.0"/>
<path d="M289.50,672.50 L289.50,708.50 A2.00,1.1 0 0 0 293.50,708.50 L293.50,672.50" fill="#fff" stroke="#000" stroke-width="1.0"/>
<ellipse cx="291.50" cy="708.50" rx="2.00" ry="1.1" fill="#fff" stroke="#000" stroke-width="1.0"/>
<path d="M296.50,672.50 L296.50,700.50 A2.00,1.1 0 0 0 300.50,700.50 L300.50,672.50" fill="#fff" stroke="#000" stroke-width="1.0"/>
<ellipse cx="298.50" cy="700.50" rx="2.00" ry="1.1" fill="#fff" stroke="#000" stroke-width="1.0"/>
<path d="M303.50,672.50 L303.50,708.50 A2.00,1.1 0 0 0 307.50,708.50 L307.50,672.50" fill="#fff" stroke="#000" stroke-width="1.0"/>
<ellipse cx="305.50" cy="708.50" rx="2.00" ry="1.1" fill="#fff" stroke="#000" stroke-width="1.0"/>
<path d="M310.50,672.50 L310.50,716.50 A2.00,1.1 0 0 0 314.50,716.50 L314.50,672.50" fill="#fff" stroke="#000" stroke-width="1.0"/>
<ellipse cx="312.50" cy="716.50" rx="2.00" ry="1.1" fill="#fff" stroke="#000" stroke-width="1.0"/>
<path d="M318.50,672.50 L318.50,724.50 A2.00,1.1 0 0 0 322.50,724.50 L322.50,672.50" fill="#fff" stroke="#000" stroke-width="1.0"/>
<ellipse cx="320.50" cy="724.50" rx="2.00" ry="1.1" fill="#fff" stroke="#000" stroke-width="1.0"/>
<path d="M326.50,672.50 L326.50,716.50 A2.00,1.1 0 0 0 330.50,716.50 L330.50,672.50" fill="#fff" stroke="#000" stroke-width="1.0"/>
<ellipse cx="328.50" cy="716.50" rx="2.00" ry="1.1" fill="#fff" stroke="#000" stroke-width="1.0"/>
<path d="M332.50,672.50 L332.50,708.50 A2.00,1.1 0 0 0 336.50,708.50 L336.50,672.50" fill="#fff" stroke="#000" stroke-width="1.0"/>
<ellipse cx="334.50" cy="708.50" rx="2.00" ry="1.1" fill="#fff" stroke="#000" stroke-width="1.0"/>
<path d="M340.50,672.50 L340.50,700.50 A2.00,1.1 0 0 0 344.50,700.50 L344.50,672.50" fill="#fff" stroke="#000" stroke-width="1.0"/>
<ellipse cx="342.50" cy="700.50" rx="2.00" ry="1.1" fill="#fff" stroke="#000" stroke-width="1.0"/>
<path d="M347.50,672.50 L347.50,708.50 A2.00,1.1 0 0 0 351.50,708.50 L351.50,672.50" fill="#fff" stroke="#000" stroke-width="1.0"/>
<ellipse cx="349.50" cy="708.50" rx="2.00" ry="1.1" fill="#fff" stroke="#000" stroke-width="1.0"/>
<path d="M354.50,672.50 L354.50,716.50 A2.00,1.1 0 0 0 358.50,716.50 L358.50,672.50" fill="#fff" stroke="#000" stroke-width="1.0"/>
<ellipse cx="356.50" cy="716.50" rx="2.00" ry="1.1" fill="#fff" stroke="#000" stroke-width="1.0"/>
<path d="M362.50,672.50 L362.50,724.50 A2.00,1.1 0 0 0 366.50,724.50 L366.50,672.50" fill="#fff" stroke="#000" stroke-width="1.0"/>
<ellipse cx="364.50" cy="724.50" rx="2.00" ry="1.1" fill="#fff" stroke="#000" stroke-width="1.0"/>
<path d="M370.50,672.50 L370.50,716.50 A2.00,1.1 0 0 0 374.50,716.50 L374.50,672.50" fill="#fff" stroke="#000" stroke-width="1.0"/>
<ellipse cx="372.50" cy="716.50" rx="2.00" ry="1.1" fill="#fff" stroke="#000" stroke-width="1.0"/>
<path d="M376.50,672.50 L376.50,708.50 A2.00,1.1 0 0 0 380.50,708.50 L380.50,672.50" fill="#fff" stroke="#000" stroke-width="1.0"/>
<ellipse cx="378.50" cy="708.50" rx="2.00" ry="1.1" fill="#fff" stroke="#000" stroke-width="1.0"/>
<path d="M384.50,672.50 L384.50,700.50 A2.00,1.1 0 0 0 388.50,700.50 L388.50,672.50" fill="#fff" stroke="#000" stroke-width="1.0"/>
<ellipse cx="386.50" cy="700.50" rx="2.00" ry="1.1" fill="#fff" stroke="#000" stroke-width="1.0"/>
<path d="M391.50,672.50 L391.50,708.50 A2.00,1.1 0 0 0 395.50,708.50 L395.50,672.50" fill="#fff" stroke="#000" stroke-width="1.0"/>
<ellipse cx="393.50" cy="708.50" rx="2.00" ry="1.1" fill="#fff" stroke="#000" stroke-width="1.0"/>
<path d="M398.50,672.50 L398.50,716.50 A2.00,1.1 0 0 0 402.50,716.50 L402.50,672.50" fill="#fff" stroke="#000" stroke-width="1.0"/>
<ellipse cx="400.50" cy="716.50" rx="2.00" ry="1.1" fill="#fff" stroke="#000" stroke-width="1.0"/>
<path d="M405.50,672.50 L405.50,724.50 A2.00,1.1 0 0 0 409.50,724.50 L409.50,672.50" fill="#fff" stroke="#000" stroke-width="1.0"/>
<ellipse cx="407.50" cy="724.50" rx="2.00" ry="1.1" fill="#fff" stroke="#000" stroke-width="1.0"/>
<path d="M414.50,672.50 L414.50,716.50 A2.00,1.1 0 0 0 418.50,716.50 L418.50,672.50" fill="#fff" stroke="#000" stroke-width="1.0"/>
<ellipse cx="416.50" cy="716.50" rx="2.00" ry="1.1" fill="#fff" stroke="#000" stroke-width="1.0"/>
<path d="M420.50,672.50 L420.50,708.50 A2.00,1.1 0 0 0 424.50,708.50 L424.50,672.50" fill="#fff" stroke="#000" stroke-width="1.0"/>
<ellipse cx="422.50" cy="708.50" rx="2.00" ry="1.1" fill="#fff" stroke="#000" stroke-width="1.0"/>
<path d="M427.50,672.50 L427.50,700.50 A2.00,1.1 0 0 0 431.50,700.50 L431.50,672.50" fill="#fff" stroke="#000" stroke-width="1.0"/>
<ellipse cx="429.50" cy="700.50" rx="2.00" ry="1.1" fill="#fff" stroke="#000" stroke-width="1.0"/>
<path d="M435.50,672.50 L435.50,708.50 A2.00,1.1 0 0 0 439.50,708.50 L439.50,672.50" fill="#fff" stroke="#000" stroke-width="1.0"/>
<ellipse cx="437.50" cy="708.50" rx="2.00" ry="1.1" fill="#fff" stroke="#000" stroke-width="1.0"/>
<path d="M441.50,672.50 L441.50,716.50 A2.00,1.1 0 0 0 445.50,716.50 L445.50,672.50" fill="#fff" stroke="#000" stroke-width="1.0"/>
<ellipse cx="443.50" cy="716.50" rx="2.00" ry="1.1" fill="#fff" stroke="#000" stroke-width="1.0"/>
<path d="M449.50,672.50 L449.50,724.50 A2.00,1.1 0 0 0 453.50,724.50 L453.50,672.50" fill="#fff" stroke="#000" stroke-width="1.0"/>
<ellipse cx="451.50" cy="724.50" rx="2.00" ry="1.1" fill="#fff" stroke="#000" stroke-width="1.0"/>
<path d="M457.50,672.50 L457.50,716.50 A2.00,1.1 0 0 0 461.50,716.50 L461.50,672.50" fill="#fff" stroke="#000" stroke-width="1.0"/>
<ellipse cx="459.50" cy="716.50" rx="2.00" ry="1.1" fill="#fff" stroke="#000" stroke-width="1.0"/>
<path d="M463.50,672.50 L463.50,708.50 A2.00,1.1 0 0 0 467.50,708.50 L467.50,672.50" fill="#fff" stroke="#000" stroke-width="1.0"/>
<ellipse cx="465.50" cy="708.50" rx="2.00" ry="1.1" fill="#fff" stroke="#000" stroke-width="1.0"/>
<path d="M471.50,672.50 L471.50,700.50 A2.00,1.1 0 0 0 475.50,700.50 L475.50,672.50" fill="#fff" stroke="#000" stroke-width="1.0"/>
<ellipse cx="473.50" cy="700.50" rx="2.00" ry="1.1" fill="#fff" stroke="#000" stroke-width="1.0"/>
<path d="M478.50,672.50 L478.50,708.50 A2.00,1.1 0 0 0 482.50,708.50 L482.50,672.50" fill="#fff" stroke="#000" stroke-width="1.0"/>
<ellipse cx="480.50" cy="708.50" rx="2.00" ry="1.1" fill="#fff" stroke="#000" stroke-width="1.0"/>
<path d="M485.50,672.50 L485.50,716.50 A2.00,1.1 0 0 0 489.50,716.50 L489.50,672.50" fill="#fff" stroke="#000" stroke-width="1.0"/>
<ellipse cx="487.50" cy="716.50" rx="2.00" ry="1.1" fill="#fff" stroke="#000" stroke-width="1.0"/>
<path d="M493.50,672.50 L493.50,724.50 A2.00,1.1 0 0 0 497.50,724.50 L497.50,672.50" fill="#fff" stroke="#000" stroke-width="1.0"/>
<ellipse cx="495.50" cy="724.50" rx="2.00" ry="1.1" fill="#fff" stroke="#000" stroke-width="1.0"/>
<path d="M501.50,672.50 L501.50,716.50 A2.00,1.1 0 0 0 505.50,716.50 L505.50,672.50" fill="#fff" stroke="#000" stroke-width="1.0"/>
<ellipse cx="503.50" cy="716.50" rx="2.00" ry="1.1" fill="#fff" stroke="#000" stroke-width="1.0"/>
<path d="M507.50,672.50 L507.50,708.50 A2.00,1.1 0 0 0 511.50,708.50 L511.50,672.50" fill="#fff" stroke="#000" stroke-width="1.0"/>
<ellipse cx="509.50" cy="708.50" rx="2.00" ry="1.1" fill="#fff" stroke="#000" stroke-width="1.0"/>
<path d="M515.50,672.50 L515.50,700.50 A2.00,1.1 0 0 0 519.50,700.50 L519.50,672.50" fill="#fff" stroke="#000" stroke-width="1.0"/>
<ellipse cx="517.50" cy="700.50" rx="2.00" ry="1.1" fill="#fff" stroke="#000" stroke-width="1.0"/>
<path d="M522.50,672.50 L522.50,708.50 A2.00,1.1 0 0 0 526.50,708.50 L526.50,672.50" fill="#fff" stroke="#000" stroke-width="1.0"/>
<ellipse cx="524.50" cy="708.50" rx="2.00" ry="1.1" fill="#fff" stroke="#000" stroke-width="1.0"/>
<path d="M529.50,672.50 L529.50,716.50 A2.00,1.1 0 0 0 533.50,716.50 L533.50,672.50" fill="#fff" stroke="#000" stroke-width="1.0"/>
<ellipse cx="531.50" cy="716.50" rx="2.00" ry="1.1" fill="#fff" stroke="#000" stroke-width="1.0"/>
<path d="M537.50,672.50 L537.50,724.50 A2.00,1.1 0 0 0 541.50,724.50 L541.50,672.50" fill="#fff" stroke="#000" stroke-width="1.0"/>
<ellipse cx="539.50" cy="724.50" rx="2.00" ry="1.1" fill="#fff" stroke="#000" stroke-width="1.0"/>
<path d="M545.50,672.50 L545.50,716.50 A2.00,1.1 0 0 0 549.50,716.50 L549.50,672.50" fill="#fff" stroke="#000" stroke-width="1.0"/>
<ellipse cx="547.50" cy="716.50" rx="2.00" ry="1.1" fill="#fff" stroke="#000" stroke-width="1.0"/>
<path d="M551.50,672.50 L551.50,708.50 A2.00,1.1 0 0 0 555.50,708.50 L555.50,672.50" fill="#fff" stroke="#000" stroke-width="1.0"/>
<ellipse cx="553.50" cy="708.50" rx="2.00" ry="1.1" fill="#fff" stroke="#000" stroke-width="1.0"/>
<path d="M558.50,672.50 L558.50,700.50 A2.00,1.1 0 0 0 562.50,700.50 L562.50,672.50" fill="#fff" stroke="#000" stroke-width="1.0"/>
<ellipse cx="560.50" cy="700.50" rx="2.00" ry="1.1" fill="#fff" stroke="#000" stroke-width="1.0"/>
<path d="M566.50,672.50 L566.50,708.50 A2.00,1.1 0 0 0 570.50,708.50 L570.50,672.50" fill="#fff" stroke="#000" stroke-width="1.0"/>
<ellipse cx="568.50" cy="708.50" rx="2.00" ry="1.1" fill="#fff" stroke="#000" stroke-width="1.0"/>
<path d="M573.50,672.50 L573.50,716.50 A2.00,1.1 0 0 0 577.50,716.50 L577.50,672.50" fill="#fff" stroke="#000" stroke-width="1.0"/>
<ellipse cx="575.50" cy="716.50" rx="2.00" ry="1.1" fill="#fff" stroke="#000" stroke-width="1.0"/>
<path d="M580.50,672.50 L580.50,724.50 A2.00,1.1 0 0 0 584.50,724.50 L584.50,672.50" fill="#fff" stroke="#000" stroke-width="1.0"/>
<ellipse cx="582.50" cy="724.50" rx="2.00" ry="1.1" fill="#fff" stroke="#000" stroke-width="1.0"/>
<path d="M588.50,672.50 L588.50,716.50 A2.00,1.1 0 0 0 592.50,716.50 L592.50,672.50" fill="#fff" stroke="#000" stroke-width="1.0"/>
<ellipse cx="590.50" cy="716.50" rx="2.00" ry="1.1" fill="#fff" stroke="#000" stroke-width="1.0"/>
<path d="M595.50,672.50 L595.50,708.50 A2.00,1.1 0 0 0 599.50,708.50 L599.50,672.50" fill="#fff" stroke="#000" stroke-width="1.0"/>
<ellipse cx="597.50" cy="708.50" rx="2.00" ry="1.1" fill="#fff" stroke="#000" stroke-width="1.0"/>
<path d="M602.50,672.50 L602.50,700.50 A2.00,1.1 0 0 0 606.50,700.50 L606.50,672.50" fill="#fff" stroke="#000" stroke-width="1.0"/>
<ellipse cx="604.50" cy="700.50" rx="2.00" ry="1.1" fill="#fff" stroke="#000" stroke-width="1.0"/>
<path d="M610.50,672.50 L610.50,708.50 A2.00,1.1 0 0 0 614.50,708.50 L614.50,672.50" fill="#fff" stroke="#000" stroke-width="1.0"/>
<ellipse cx="612.50" cy="708.50" rx="2.00" ry="1.1" fill="#fff" stroke="#000" stroke-width="1.0"/>
<path d="M616.50,672.39 L616.50,716.50 A2.00,1.1 0 0 0 620.50,716.50 L620.50,672.39" fill="#fff" stroke="#000" stroke-width="1.0"/>
<ellipse cx="618.50" cy="716.50" rx="2.00" ry="1.1" fill="#fff" stroke="#000" stroke-width="1.0"/>
<path d="M624.50,671.98 L624.50,724.50 A2.00,1.1 0 0 0 628.50,724.50 L628.50,671.98" fill="#fff" stroke="#000" stroke-width="1.0"/>
<ellipse cx="626.50" cy="724.50" rx="2.00" ry="1.1" fill="#fff" stroke="#000" stroke-width="1.0"/>
<path d="M632.50,671.22 L632.50,716.50 A2.00,1.1 0 0 0 636.50,716.50 L636.50,671.22" fill="#fff" stroke="#000" stroke-width="1.0"/>
<ellipse cx="634.50" cy="716.50" rx="2.00" ry="1.1" fill="#fff" stroke="#000" stroke-width="1.0"/>
<path d="M638.50,670.41 L638.50,708.50 A2.00,1.1 0 0 0 642.50,708.50 L642.50,670.41" fill="#fff" stroke="#000" stroke-width="1.0"/>
<ellipse cx="640.50" cy="708.50" rx="2.00" ry="1.1" fill="#fff" stroke="#000" stroke-width="1.0"/>
<path d="M646.50,669.16 L646.50,700.50 A2.00,1.1 0 0 0 650.50,700.50 L650.50,669.16" fill="#fff" stroke="#000" stroke-width="1.0"/>
<ellipse cx="648.50" cy="700.50" rx="2.00" ry="1.1" fill="#fff" stroke="#000" stroke-width="1.0"/>
<path d="M176.50,691.50 L176.50,584.10 Q176.50,582.50 178.10,582.50 L178.90,582.50 Q180.50,582.50 180.50,584.10 L180.50,691.50 A2.00,1.1 0 0 1 176.50,691.50" fill="#fff" stroke="#000" stroke-width="1.0"/>
<ellipse cx="178.50" cy="691.50" rx="2.00" ry="1.1" fill="#fff" stroke="#000" stroke-width="1.0"/>
<path d="M183.50,696.50 L183.50,577.10 Q183.50,575.50 185.10,575.50 L185.90,575.50 Q187.50,575.50 187.50,577.10 L187.50,696.50 A2.00,1.1 0 0 1 183.50,696.50" fill="#fff" stroke="#000" stroke-width="1.0"/>
<ellipse cx="185.50" cy="696.50" rx="2.00" ry="1.1" fill="#fff" stroke="#000" stroke-width="1.0"/>
<path d="M190.50,703.50 L190.50,571.10 Q190.50,569.50 192.10,569.50 L192.90,569.50 Q194.50,569.50 194.50,571.10 L194.50,703.50 A2.00,1.1 0 0 1 190.50,703.50" fill="#fff" stroke="#000" stroke-width="1.0"/>
<ellipse cx="192.50" cy="703.50" rx="2.00" ry="1.1" fill="#fff" stroke="#000" stroke-width="1.0"/>
<path d="M198.50,708.50 L198.50,565.10 Q198.50,563.50 200.10,563.50 L200.90,563.50 Q202.50,563.50 202.50,565.10 L202.50,708.50 A2.00,1.1 0 0 1 198.50,708.50" fill="#fff" stroke="#000" stroke-width="1.0"/>
<ellipse cx="200.50" cy="708.50" rx="2.00" ry="1.1" fill="#fff" stroke="#000" stroke-width="1.0"/>
<path d="M204.50,700.50 L204.50,561.10 Q204.50,559.50 206.10,559.50 L206.90,559.50 Q208.50,559.50 208.50,561.10 L208.50,700.50 A2.00,1.1 0 0 1 204.50,700.50" fill="#fff" stroke="#000" stroke-width="1.0"/>
<ellipse cx="206.50" cy="700.50" rx="2.00" ry="1.1" fill="#fff" stroke="#000" stroke-width="1.0"/>
<path d="M210.50,691.50 L210.50,558.10 Q210.50,556.50 212.10,556.50 L212.90,556.50 Q214.50,556.50 214.50,558.10 L214.50,691.50 A2.00,1.1 0 0 1 210.50,691.50" fill="#fff" stroke="#000" stroke-width="1.0"/>
<ellipse cx="212.50" cy="691.50" rx="2.00" ry="1.1" fill="#fff" stroke="#000" stroke-width="1.0"/>
<path d="M174.50,665.50 L174.50,587.10 Q174.50,585.50 176.10,585.50 L176.90,585.50 Q178.50,585.50 178.50,587.10 L178.50,665.50 A2.00,1.1 0 0 1 174.50,665.50" fill="#fff" stroke="#000" stroke-width="1.0"/>
<ellipse cx="176.50" cy="665.50" rx="2.00" ry="1.1" fill="#fff" stroke="#000" stroke-width="1.0"/>
<path d="M183.50,671.50 L183.50,577.10 Q183.50,575.50 185.10,575.50 L185.90,575.50 Q187.50,575.50 187.50,577.10 L187.50,671.50 A2.00,1.1 0 0 1 183.50,671.50" fill="#fff" stroke="#000" stroke-width="1.0"/>
<ellipse cx="185.50" cy="671.50" rx="2.00" ry="1.1" fill="#fff" stroke="#000" stroke-width="1.0"/>
<path d="M188.50,663.50 L188.50,572.10 Q188.50,570.50 190.10,570.50 L190.90,570.50 Q192.50,570.50 192.50,572.10 L192.50,663.50 A2.00,1.1 0 0 1 188.50,663.50" fill="#fff" stroke="#000" stroke-width="1.0"/>
<ellipse cx="190.50" cy="663.50" rx="2.00" ry="1.1" fill="#fff" stroke="#000" stroke-width="1.0"/>
<path d="M194.50,655.50 L194.50,567.10 Q194.50,565.50 196.10,565.50 L196.90,565.50 Q198.50,565.50 198.50,567.10 L198.50,655.50 A2.00,1.1 0 0 1 194.50,655.50" fill="#fff" stroke="#000" stroke-width="1.0"/>
<ellipse cx="196.50" cy="655.50" rx="2.00" ry="1.1" fill="#fff" stroke="#000" stroke-width="1.0"/>
<path d="M176.50,640.50 L176.50,595.10 Q176.50,593.50 178.10,593.50 L178.90,593.50 Q180.50,593.50 180.50,595.10 L180.50,640.50 A2.00,1.1 0 0 1 176.50,640.50" fill="#fff" stroke="#000" stroke-width="1.0"/>
<ellipse cx="178.50" cy="640.50" rx="2.00" ry="1.1" fill="#fff" stroke="#000" stroke-width="1.0"/>
<path d="M183.50,645.50 L183.50,585.10 Q183.50,583.50 185.10,583.50 L185.90,583.50 Q187.50,583.50 187.50,585.10 L187.50,645.50 A2.00,1.1 0 0 1 183.50,645.50" fill="#fff" stroke="#000" stroke-width="1.0"/>
<ellipse cx="185.50" cy="645.50" rx="2.00" ry="1.1" fill="#fff" stroke="#000" stroke-width="1.0"/>
<path d="M188.50,663.50 L188.50,618.10 Q188.50,616.50 190.10,616.50 L190.90,616.50 Q192.50,616.50 192.50,618.10 L192.50,663.50 A2.00,1.1 0 0 1 188.50,663.50" fill="#fff" stroke="#000" stroke-width="1.0"/>
<ellipse cx="190.50" cy="663.50" rx="2.00" ry="1.1" fill="#fff" stroke="#000" stroke-width="1.0"/>
<path d="M205.50,627.50 L205.50,573.10 Q205.50,571.50 207.10,571.50 L207.90,571.50 Q209.50,571.50 209.50,573.10 L209.50,627.50 A2.00,1.1 0 0 1 205.50,627.50" fill="#fff" stroke="#000" stroke-width="1.0"/>
<ellipse cx="207.50" cy="627.50" rx="2.00" ry="1.1" fill="#fff" stroke="#000" stroke-width="1.0"/>
<path d="M211.50,631.50 L211.50,581.10 Q211.50,579.50 213.10,579.50 L213.90,579.50 Q215.50,579.50 215.50,581.10 L215.50,631.50 A2.00,1.1 0 0 1 211.50,631.50" fill="#fff" stroke="#000" stroke-width="1.0"/>
<ellipse cx="213.50" cy="631.50" rx="2.00" ry="1.1" fill="#fff" stroke="#000" stroke-width="1.0"/>
<line x1="189.1" y1="572.4" x2="189.1" y2="615.0" stroke="#000" stroke-width="2.6"/>
<line x1="194.2" y1="568.0" x2="194.2" y2="619.0" stroke="#000" stroke-width="2.8"/>
<line x1="187.4" y1="610.0" x2="187.4" y2="644.0" stroke="#000" stroke-width="2.0"/>
<line x1="215.5" y1="581.0" x2="215.5" y2="630.0" stroke="#000" stroke-width="2.2"/>
<line x1="199.3" y1="565.0" x2="199.3" y2="655.0" stroke="#000" stroke-width="1.4"/>
<path d="M651.50,685.50 L651.50,550.10 Q651.50,548.50 653.10,548.50 L653.90,548.50 Q655.50,548.50 655.50,550.10 L655.50,685.50 A2.00,1.1 0 0 1 651.50,685.50" fill="none" stroke="#000" stroke-width="1.0"/>
<ellipse cx="653.50" cy="685.50" rx="2.00" ry="1.1" fill="none" stroke="#000" stroke-width="1.0"/>
<path d="M657.50,693.50 L657.50,552.10 Q657.50,550.50 659.10,550.50 L659.90,550.50 Q661.50,550.50 661.50,552.10 L661.50,693.50 A2.00,1.1 0 0 1 657.50,693.50" fill="none" stroke="#000" stroke-width="1.0"/>
<ellipse cx="659.50" cy="693.50" rx="2.00" ry="1.1" fill="none" stroke="#000" stroke-width="1.0"/>
<path d="M665.50,701.50 L665.50,554.10 Q665.50,552.50 667.10,552.50 L667.90,552.50 Q669.50,552.50 669.50,554.10 L669.50,701.50 A2.00,1.1 0 0 1 665.50,701.50" fill="none" stroke="#000" stroke-width="1.0"/>
<ellipse cx="667.50" cy="701.50" rx="2.00" ry="1.1" fill="none" stroke="#000" stroke-width="1.0"/>
<path d="M674.50,693.50 L674.50,557.10 Q674.50,555.50 676.10,555.50 L676.90,555.50 Q678.50,555.50 678.50,557.10 L678.50,693.50 A2.00,1.1 0 0 1 674.50,693.50" fill="none" stroke="#000" stroke-width="1.0"/>
<ellipse cx="676.50" cy="693.50" rx="2.00" ry="1.1" fill="none" stroke="#000" stroke-width="1.0"/>
<path d="M680.50,685.50 L680.50,560.10 Q680.50,558.50 682.10,558.50 L682.90,558.50 Q684.50,558.50 684.50,560.10 L684.50,685.50 A2.00,1.1 0 0 1 680.50,685.50" fill="none" stroke="#000" stroke-width="1.0"/>
<ellipse cx="682.50" cy="685.50" rx="2.00" ry="1.1" fill="none" stroke="#000" stroke-width="1.0"/>
<path d="M689.50,677.50 L689.50,564.10 Q689.50,562.50 691.10,562.50 L691.90,562.50 Q693.50,562.50 693.50,564.10 L693.50,677.50 A2.00,1.1 0 0 1 689.50,677.50" fill="none" stroke="#000" stroke-width="1.0"/>
<ellipse cx="691.50" cy="677.50" rx="2.00" ry="1.1" fill="none" stroke="#000" stroke-width="1.0"/>
<path d="M695.50,673.50 L695.50,567.10 Q695.50,565.50 697.10,565.50 L697.90,565.50 Q699.50,565.50 699.50,567.10 L699.50,673.50 A2.00,1.1 0 0 1 695.50,673.50" fill="none" stroke="#000" stroke-width="1.0"/>
<ellipse cx="697.50" cy="673.50" rx="2.00" ry="1.1" fill="none" stroke="#000" stroke-width="1.0"/>
<path d="M703.50,665.50 L703.50,572.10 Q703.50,570.50 705.10,570.50 L705.90,570.50 Q707.50,570.50 707.50,572.10 L707.50,665.50 A2.00,1.1 0 0 1 703.50,665.50" fill="none" stroke="#000" stroke-width="1.0"/>
<ellipse cx="705.50" cy="665.50" rx="2.00" ry="1.1" fill="none" stroke="#000" stroke-width="1.0"/>
<path d="M709.50,657.50 L709.50,577.10 Q709.50,575.50 711.10,575.50 L711.90,575.50 Q713.50,575.50 713.50,577.10 L713.50,657.50 A2.00,1.1 0 0 1 709.50,657.50" fill="none" stroke="#000" stroke-width="1.0"/>
<ellipse cx="711.50" cy="657.50" rx="2.00" ry="1.1" fill="none" stroke="#000" stroke-width="1.0"/>
<path d="M716.50,648.50 L716.50,585.10 Q716.50,583.50 718.10,583.50 L718.90,583.50 Q720.50,583.50 720.50,585.10 L720.50,648.50 A2.00,1.1 0 0 1 716.50,648.50" fill="none" stroke="#000" stroke-width="1.0"/>
<ellipse cx="718.50" cy="648.50" rx="2.00" ry="1.1" fill="none" stroke="#000" stroke-width="1.0"/>
<path d="M686.50,665.50 L686.50,562.10 Q686.50,560.50 688.10,560.50 L688.90,560.50 Q690.50,560.50 690.50,562.10 L690.50,665.50 A2.00,1.1 0 0 1 686.50,665.50" fill="none" stroke="#000" stroke-width="1.0"/>
<ellipse cx="688.50" cy="665.50" rx="2.00" ry="1.1" fill="none" stroke="#000" stroke-width="1.0"/>
<path d="M680.50,656.50 L680.50,602.10 Q680.50,600.50 682.10,600.50 L682.90,600.50 Q684.50,600.50 684.50,602.10 L684.50,656.50 A2.00,1.1 0 0 1 680.50,656.50" fill="none" stroke="#000" stroke-width="1.0"/>
<ellipse cx="682.50" cy="656.50" rx="2.00" ry="1.1" fill="none" stroke="#000" stroke-width="1.0"/>
<path d="M674.50,613.50 L674.50,557.10 Q674.50,555.50 676.10,555.50 L676.90,555.50 Q678.50,555.50 678.50,557.10 L678.50,613.50 A2.00,1.1 0 0 1 674.50,613.50" fill="none" stroke="#000" stroke-width="1.0"/>
<ellipse cx="676.50" cy="613.50" rx="2.00" ry="1.1" fill="none" stroke="#000" stroke-width="1.0"/>
<path d="M680.50,621.50 L680.50,560.10 Q680.50,558.50 682.10,558.50 L682.90,558.50 Q684.50,558.50 684.50,560.10 L684.50,621.50 A2.00,1.1 0 0 1 680.50,621.50" fill="none" stroke="#000" stroke-width="1.0"/>
<ellipse cx="682.50" cy="621.50" rx="2.00" ry="1.1" fill="none" stroke="#000" stroke-width="1.0"/>
<path d="M689.50,629.50 L689.50,564.10 Q689.50,562.50 691.10,562.50 L691.90,562.50 Q693.50,562.50 693.50,564.10 L693.50,629.50 A2.00,1.1 0 0 1 689.50,629.50" fill="none" stroke="#000" stroke-width="1.0"/>
<ellipse cx="691.50" cy="629.50" rx="2.00" ry="1.1" fill="none" stroke="#000" stroke-width="1.0"/>
<path d="M697.50,621.50 L697.50,568.10 Q697.50,566.50 699.10,566.50 L699.90,566.50 Q701.50,566.50 701.50,568.10 L701.50,621.50 A2.00,1.1 0 0 1 697.50,621.50" fill="none" stroke="#000" stroke-width="1.0"/>
<ellipse cx="699.50" cy="621.50" rx="2.00" ry="1.1" fill="none" stroke="#000" stroke-width="1.0"/>
<path d="M703.50,613.50 L703.50,572.10 Q703.50,570.50 705.10,570.50 L705.90,570.50 Q707.50,570.50 707.50,572.10 L707.50,613.50 A2.00,1.1 0 0 1 703.50,613.50" fill="none" stroke="#000" stroke-width="1.0"/>
<ellipse cx="705.50" cy="613.50" rx="2.00" ry="1.1" fill="none" stroke="#000" stroke-width="1.0"/>
<path d="M712.50,604.50 L712.50,580.10 Q712.50,578.50 714.10,578.50 L714.90,578.50 Q716.50,578.50 716.50,580.10 L716.50,604.50 A2.00,1.1 0 0 1 712.50,604.50" fill="none" stroke="#000" stroke-width="1.0"/>
<ellipse cx="714.50" cy="604.50" rx="2.00" ry="1.1" fill="none" stroke="#000" stroke-width="1.0"/>
<line x1="680.5" y1="556.0" x2="680.5" y2="657.0" stroke="#000" stroke-width="3.0"/>
<line x1="685.8" y1="559.0" x2="685.8" y2="657.0" stroke="#000" stroke-width="2.6"/>
<line x1="690.0" y1="564.0" x2="690.0" y2="665.0" stroke="#000" stroke-width="1.4"/>
<line x1="694.2" y1="566.0" x2="694.2" y2="673.0" stroke="#000" stroke-width="1.6"/>
<line x1="652.0" y1="548.0" x2="652.0" y2="602.0" stroke="#000" stroke-width="2.0"/>
<line x1="652.3" y1="640.0" x2="652.3" y2="686.0" stroke="#000" stroke-width="1.6"/>
<line x1="666.2" y1="551.0" x2="666.2" y2="586.0" stroke="#000" stroke-width="1.6"/>
<line x1="702.7" y1="568.0" x2="702.7" y2="614.0" stroke="#000" stroke-width="2.4"/>
<line x1="706.9" y1="572.0" x2="706.9" y2="640.0" stroke="#000" stroke-width="1.4"/>
<line x1="716.0" y1="580.0" x2="716.0" y2="604.0" stroke="#000" stroke-width="1.4"/>
<path d="M727.50,607.00 L727.46,608.71 L727.34,610.43 L727.14,612.14 L726.87,613.85 L726.51,615.55 L726.08,617.25 L725.57,618.94 L724.98,620.62 L724.31,622.29 L723.56,623.95 L722.74,625.60 L721.85,627.24 L720.88,628.86 L719.83,630.47 L718.71,632.07 L717.51,633.64 L716.25,635.20 L714.91,636.74 L713.50,638.25 L712.03,639.75 L710.48,641.22 L708.87,642.67 L707.19,644.10 L705.44,645.50 L703.63,646.87 L701.76,648.22 L699.83,649.54 L697.83,650.83 L695.78,652.09 L693.67,653.32 L691.50,654.51 L689.28,655.68 L687.01,656.81 L684.69,657.90 L682.31,658.96 L679.89,659.99 L677.42,660.98 L674.91,661.93 L672.35,662.85 L669.75,663.72 L667.11,664.56 L664.44,665.36 L661.72,666.12 L658.98,666.84 L656.20,667.51 L653.39,668.15 L650.55,668.74 L647.69,669.29 L644.80,669.80 L641.89,670.27 L638.96,670.69 L636.01,671.07 L633.05,671.40 L630.07,671.69 L627.08,671.94 L624.07,672.14 L621.06,672.30 L618.04,672.41 L615.02,672.48 L612.00,672.50 L290.00,672.50 L286.86,672.48 L283.72,672.41 L280.58,672.30 L277.46,672.14 L274.34,671.94 L271.23,671.69 L268.13,671.40 L265.05,671.07 L261.99,670.69 L258.94,670.27 L255.92,669.80 L252.92,669.29 L249.94,668.74 L247.00,668.15 L244.08,667.51 L241.19,666.84 L238.34,666.12 L235.52,665.36 L232.74,664.56 L230.00,663.72 L227.30,662.85 L224.64,661.93 L222.03,660.98 L219.47,659.99 L216.95,658.96 L214.48,657.90 L212.07,656.81 L209.70,655.68 L207.40,654.51 L205.15,653.32 L202.96,652.09 L200.82,650.83 L198.75,649.54 L196.74,648.22 L194.80,646.87 L192.92,645.50 L191.10,644.10 L189.36,642.67 L187.68,641.22 L186.08,639.75 L184.54,638.25 L183.08,636.74 L181.69,635.20 L180.37,633.64 L179.13,632.07 L177.97,630.47 L176.88,628.86 L175.87,627.24 L174.94,625.60 L174.09,623.95 L173.32,622.29 L172.62,620.62 L172.01,618.94 L171.48,617.25 L171.03,615.55 L170.66,613.85 L170.37,612.14 L170.16,610.43 L170.04,608.71 L170.00,607.00 " fill="none" stroke="#000" stroke-width="1.2"/>
<path d="M170.00,576.50 L170.04,574.72 L170.16,572.94 L170.37,571.16 L170.66,569.39 L171.03,567.62 L171.48,565.86 L172.01,564.11 L172.62,562.36 L173.32,560.63 L174.09,558.90 L174.94,557.19 L175.87,555.49 L176.88,553.80 L177.97,552.13 L179.13,550.48 L180.37,548.84 L181.69,547.23 L183.08,545.63 L184.54,544.05 L186.08,542.50 L187.68,540.97 L189.36,539.46 L191.10,537.98 L192.92,536.53 L194.80,535.10 L196.74,533.71 L198.75,532.34 L200.82,531.00 L202.96,529.69 L205.15,528.42 L207.40,527.17 L209.70,525.97 L212.07,524.79 L214.48,523.65 L216.95,522.55 L219.47,521.49 L222.03,520.46 L224.64,519.47 L227.30,518.52 L230.00,517.61 L232.74,516.74 L235.52,515.91 L238.34,515.12 L241.19,514.38 L244.08,513.68 L247.00,513.02 L249.94,512.40 L252.92,511.83 L255.92,511.30 L258.94,510.82 L261.99,510.38 L265.05,509.99 L268.13,509.64 L271.23,509.34 L274.34,509.08 L277.46,508.87 L280.58,508.71 L283.72,508.59 L286.86,508.52 L290.00,508.50 L607.50,508.50 L610.64,508.52 L613.78,508.59 L616.92,508.71 L620.04,508.87 L623.16,509.08 L626.27,509.34 L629.37,509.64 L632.45,509.99 L635.51,510.38 L638.56,510.82 L641.58,511.30 L644.58,511.83 L647.56,512.40 L650.50,513.02 L653.42,513.68 L656.31,514.38 L659.16,515.12 L661.98,515.91 L664.76,516.74 L667.50,517.61 L670.20,518.52 L672.86,519.47 L675.47,520.46 L678.03,521.49 L680.55,522.55 L683.02,523.65 L685.43,524.79 L687.80,525.97 L690.10,527.17 L692.35,528.42 L694.54,529.69 L696.68,531.00 L698.75,532.34 L700.76,533.71 L702.70,535.10 L704.58,536.53 L706.40,537.98 L708.14,539.46 L709.82,540.97 L711.42,542.50 L712.96,544.05 L714.42,545.63 L715.81,547.23 L717.13,548.84 L718.37,550.48 L719.53,552.13 L720.62,553.80 L721.63,555.49 L722.56,557.19 L723.41,558.90 L724.18,560.63 L724.88,562.36 L725.49,564.11 L726.02,565.86 L726.47,567.62 L726.84,569.39 L727.13,571.16 L727.34,572.94 L727.46,574.72 L727.50,576.50 L728.0,607.0 L728.00,607.00 L727.95,605.29 L727.81,603.57 L727.58,601.86 L727.25,600.15 L726.84,598.45 L726.33,596.75 L725.72,595.06 L725.03,593.38 L724.24,591.71 L723.37,590.05 L722.40,588.40 L721.34,586.76 L720.20,585.14 L718.97,583.53 L717.65,581.93 L716.24,580.36 L714.75,578.80 L713.18,577.26 L711.52,575.75 L709.78,574.25 L707.96,572.78 L706.06,571.33 L704.08,569.90 L702.03,568.50 L699.90,567.13 L697.69,565.78 L695.42,564.46 L693.07,563.17 L690.65,561.91 L688.17,560.68 L685.62,559.49 L683.00,558.32 L680.32,557.19 L677.59,556.10 L674.79,555.04 L671.94,554.01 L669.03,553.02 L666.07,552.07 L663.06,551.15 L660.00,550.28 L656.89,549.44 L653.74,548.64 L650.55,547.88 L647.32,547.16 L644.04,546.49 L640.74,545.85 L637.40,545.26 L634.03,544.71 L630.63,544.20 L627.20,543.73 L623.75,543.31 L620.28,542.93 L616.78,542.60 L613.28,542.31 L609.75,542.06 L606.22,541.86 L602.67,541.70 L599.12,541.59 L595.56,541.52 L592.00,541.50 L290.00,541.50 L286.86,541.52 L283.72,541.59 L280.58,541.70 L277.46,541.86 L274.34,542.06 L271.23,542.31 L268.13,542.60 L265.05,542.93 L261.99,543.31 L258.94,543.73 L255.92,544.20 L252.92,544.71 L249.94,545.26 L247.00,545.85 L244.08,546.49 L241.19,547.16 L238.34,547.88 L235.52,548.64 L232.74,549.44 L230.00,550.28 L227.30,551.15 L224.64,552.07 L222.03,553.02 L219.47,554.01 L216.95,555.04 L214.48,556.10 L212.07,557.19 L209.70,558.32 L207.40,559.49 L205.15,560.68 L202.96,561.91 L200.82,563.17 L198.75,564.46 L196.74,565.78 L194.80,567.13 L192.92,568.50 L191.10,569.90 L189.36,571.33 L187.68,572.78 L186.08,574.25 L184.54,575.75 L183.08,577.26 L181.69,578.80 L180.37,580.36 L179.13,581.93 L177.97,583.53 L176.88,585.14 L175.87,586.76 L174.94,588.40 L174.09,590.05 L173.32,591.71 L172.62,593.38 L172.01,595.06 L171.48,596.75 L171.03,598.45 L170.66,600.15 L170.37,601.86 L170.16,603.57 L170.04,605.29 L170.00,607.00 Z" fill="#fff" stroke="none"/>
<path d="M170.00,576.50 L170.04,574.72 L170.16,572.94 L170.37,571.16 L170.66,569.39 L171.03,567.62 L171.48,565.86 L172.01,564.11 L172.62,562.36 L173.32,560.63 L174.09,558.90 L174.94,557.19 L175.87,555.49 L176.88,553.80 L177.97,552.13 L179.13,550.48 L180.37,548.84 L181.69,547.23 L183.08,545.63 L184.54,544.05 L186.08,542.50 L187.68,540.97 L189.36,539.46 L191.10,537.98 L192.92,536.53 L194.80,535.10 L196.74,533.71 L198.75,532.34 L200.82,531.00 L202.96,529.69 L205.15,528.42 L207.40,527.17 L209.70,525.97 L212.07,524.79 L214.48,523.65 L216.95,522.55 L219.47,521.49 L222.03,520.46 L224.64,519.47 L227.30,518.52 L230.00,517.61 L232.74,516.74 L235.52,515.91 L238.34,515.12 L241.19,514.38 L244.08,513.68 L247.00,513.02 L249.94,512.40 L252.92,511.83 L255.92,511.30 L258.94,510.82 L261.99,510.38 L265.05,509.99 L268.13,509.64 L271.23,509.34 L274.34,509.08 L277.46,508.87 L280.58,508.71 L283.72,508.59 L286.86,508.52 L290.00,508.50 L607.50,508.50 L610.64,508.52 L613.78,508.59 L616.92,508.71 L620.04,508.87 L623.16,509.08 L626.27,509.34 L629.37,509.64 L632.45,509.99 L635.51,510.38 L638.56,510.82 L641.58,511.30 L644.58,511.83 L647.56,512.40 L650.50,513.02 L653.42,513.68 L656.31,514.38 L659.16,515.12 L661.98,515.91 L664.76,516.74 L667.50,517.61 L670.20,518.52 L672.86,519.47 L675.47,520.46 L678.03,521.49 L680.55,522.55 L683.02,523.65 L685.43,524.79 L687.80,525.97 L690.10,527.17 L692.35,528.42 L694.54,529.69 L696.68,531.00 L698.75,532.34 L700.76,533.71 L702.70,535.10 L704.58,536.53 L706.40,537.98 L708.14,539.46 L709.82,540.97 L711.42,542.50 L712.96,544.05 L714.42,545.63 L715.81,547.23 L717.13,548.84 L718.37,550.48 L719.53,552.13 L720.62,553.80 L721.63,555.49 L722.56,557.19 L723.41,558.90 L724.18,560.63 L724.88,562.36 L725.49,564.11 L726.02,565.86 L726.47,567.62 L726.84,569.39 L727.13,571.16 L727.34,572.94 L727.46,574.72 L727.50,576.50 " fill="none" stroke="#000" stroke-width="1.2"/>
<path d="M170.00,607.00 L170.04,605.29 L170.16,603.57 L170.37,601.86 L170.66,600.15 L171.03,598.45 L171.48,596.75 L172.01,595.06 L172.62,593.38 L173.32,591.71 L174.09,590.05 L174.94,588.40 L175.87,586.76 L176.88,585.14 L177.97,583.53 L179.13,581.93 L180.37,580.36 L181.69,578.80 L183.08,577.26 L184.54,575.75 L186.08,574.25 L187.68,572.78 L189.36,571.33 L191.10,569.90 L192.92,568.50 L194.80,567.13 L196.74,565.78 L198.75,564.46 L200.82,563.17 L202.96,561.91 L205.15,560.68 L207.40,559.49 L209.70,558.32 L212.07,557.19 L214.48,556.10 L216.95,555.04 L219.47,554.01 L222.03,553.02 L224.64,552.07 L227.30,551.15 L230.00,550.28 L232.74,549.44 L235.52,548.64 L238.34,547.88 L241.19,547.16 L244.08,546.49 L247.00,545.85 L249.94,545.26 L252.92,544.71 L255.92,544.20 L258.94,543.73 L261.99,543.31 L265.05,542.93 L268.13,542.60 L271.23,542.31 L274.34,542.06 L277.46,541.86 L280.58,541.70 L283.72,541.59 L286.86,541.52 L290.00,541.50 L592.00,541.50 L595.56,541.52 L599.12,541.59 L602.67,541.70 L606.22,541.86 L609.75,542.06 L613.28,542.31 L616.78,542.60 L620.28,542.93 L623.75,543.31 L627.20,543.73 L630.63,544.20 L634.03,544.71 L637.40,545.26 L640.74,545.85 L644.04,546.49 L647.32,547.16 L650.55,547.88 L653.74,548.64 L656.89,549.44 L660.00,550.28 L663.06,551.15 L666.07,552.07 L669.03,553.02 L671.94,554.01 L674.79,555.04 L677.59,556.10 L680.32,557.19 L683.00,558.32 L685.62,559.49 L688.17,560.68 L690.65,561.91 L693.07,563.17 L695.42,564.46 L697.69,565.78 L699.90,567.13 L702.03,568.50 L704.08,569.90 L706.06,571.33 L707.96,572.78 L709.78,574.25 L711.52,575.75 L713.18,577.26 L714.75,578.80 L716.24,580.36 L717.65,581.93 L718.97,583.53 L720.20,585.14 L721.34,586.76 L722.40,588.40 L723.37,590.05 L724.24,591.71 L725.03,593.38 L725.72,595.06 L726.33,596.75 L726.84,598.45 L727.25,600.15 L727.58,601.86 L727.81,603.57 L727.95,605.29 L728.00,607.00 " fill="none" stroke="#000" stroke-width="1.2"/>
<line x1="170.5" y1="576.5" x2="170.5" y2="607.0" stroke="#000" stroke-width="1.1"/>
<path d="M387.6,89.5 A52.5,17 0 0 1 492.5,89.5" fill="none" stroke="#000" stroke-width="1"/>
<ellipse cx="440.3" cy="109.3" rx="52.8" ry="18.2" fill="none" stroke="#000" stroke-width="1"/>
<line x1="404.0" y1="103.0" x2="259.0" y2="510.0" stroke="#000" stroke-width="1.0"/>
<line x1="407.8" y1="117.7" x2="313.0" y2="508.4" stroke="#000" stroke-width="1.0"/>
<line x1="472.2" y1="120.1" x2="577.5" y2="508.4" stroke="#000" stroke-width="1.0"/>
<line x1="474.2" y1="105.9" x2="655.0" y2="513.7" stroke="#000" stroke-width="1.0"/>
<ellipse cx="440.5" cy="98.7" rx="2.1999999999999997" ry="1.5999999999999999" fill="#fff" stroke="#000" stroke-width="1.3"/>
<ellipse cx="440.5" cy="121" rx="2.1999999999999997" ry="1.5999999999999999" fill="#fff" stroke="#000" stroke-width="1.3"/>
<ellipse cx="404" cy="103" rx="1.9" ry="1.4" fill="#000"/>
<ellipse cx="406.9" cy="110.9" rx="2.1999999999999997" ry="1.5999999999999999" fill="#fff" stroke="#000" stroke-width="1.3"/>
<ellipse cx="407.8" cy="117.7" rx="1.9" ry="1.4" fill="#000"/>
<ellipse cx="474.2" cy="105.9" rx="1.9" ry="1.4" fill="#000"/>
<ellipse cx="471.8" cy="113.5" rx="2.1999999999999997" ry="1.5999999999999999" fill="#fff" stroke="#000" stroke-width="1.3"/>
<ellipse cx="472.2" cy="120.1" rx="1.9" ry="1.4" fill="#000"/>
<line x1="440.5" y1="64.2" x2="440.5" y2="508.4" stroke="#000" stroke-width="1.0"/>
<line x1="387.5" y1="35.0" x2="387.5" y2="109.5" stroke="#000" stroke-width="1.0"/>
<line x1="492.5" y1="35.0" x2="492.5" y2="109.5" stroke="#000" stroke-width="1.0"/>
<line x1="375.0" y1="45.5" x2="399.0" y2="45.5" stroke="#000" stroke-width="1.0"/>
<line x1="473.0" y1="45.5" x2="502.5" y2="45.5" stroke="#000" stroke-width="1.0"/>
<line x1="37.0" y1="72.5" x2="441.5" y2="72.5" stroke="#000" stroke-width="1.0"/>
<line x1="54.5" y1="61.0" x2="54.5" y2="330.7" stroke="#000" stroke-width="1.0"/>
<line x1="54.5" y1="384.2" x2="54.5" y2="739.8" stroke="#000" stroke-width="1.0"/>
<line x1="39.0" y1="724.5" x2="237.7" y2="724.5" stroke="#000" stroke-width="1.0"/>
<line x1="438.4" y1="90.5" x2="541.7" y2="90.5" stroke="#000" stroke-width="1.0"/>
<line x1="441.5" y1="127.5" x2="541.7" y2="127.5" stroke="#000" stroke-width="1.0"/>
<line x1="533.5" y1="81.5" x2="533.5" y2="99.0" stroke="#000" stroke-width="1.0"/>
<line x1="532.5" y1="118.0" x2="532.5" y2="135.6" stroke="#000" stroke-width="1.0"/>
<line x1="161.5" y1="642.0" x2="161.5" y2="790.6" stroke="#000" stroke-width="1.0"/>
<line x1="727.5" y1="576.0" x2="727.5" y2="790.4" stroke="#000" stroke-width="1.0"/>
<line x1="149.0" y1="778.5" x2="360.7" y2="778.5" stroke="#000" stroke-width="1.0"/>
<line x1="461.2" y1="778.5" x2="738.4" y2="778.5" stroke="#000" stroke-width="1.0"/>
<line x1="600.0" y1="541.5" x2="792.6" y2="541.5" stroke="#000" stroke-width="1.0"/>
<line x1="640.0" y1="672.5" x2="794.5" y2="672.5" stroke="#000" stroke-width="1.0"/>
<line x1="772.5" y1="518.7" x2="772.5" y2="582.7" stroke="#000" stroke-width="1.0"/>
<line x1="772.5" y1="613.8" x2="772.5" y2="692.2" stroke="#000" stroke-width="1.0"/>
<line x1="611.5" y1="89.1" x2="611.5" y2="193.5" stroke="#000" stroke-width="1.0"/>
<line x1="610.5" y1="226.2" x2="610.5" y2="336.4" stroke="#000" stroke-width="1.0"/>
<line x1="598.1" y1="102.5" x2="649.8" y2="102.5" stroke="#000" stroke-width="1.0"/>
<line x1="593.0" y1="323.5" x2="648.0" y2="323.5" stroke="#000" stroke-width="1.0"/>
<rect x="745.9" y="416" width="1.3" height="3" fill="#000"/>
<path d="M647.5,323 L647.5,106.5 A4.50,2.2 0 0 1 656.5,106.5 L656.5,323" fill="#fff" stroke="#000" stroke-width="1"/>
<ellipse cx="652.0" cy="322.9" rx="4.50" ry="2.7" fill="#fff" stroke="#000" stroke-width="1"/>
<line x1="647.5" y1="164.5" x2="656.5" y2="164.5" stroke="#000" stroke-width="0.9"/>
<line x1="647.5" y1="166.5" x2="656.5" y2="166.5" stroke="#000" stroke-width="0.9"/>
<path d="M710.5,323 L710.5,106.5 A4.50,2.2 0 0 1 719.5,106.5 L719.5,323" fill="#fff" stroke="#000" stroke-width="1"/>
<ellipse cx="715.0" cy="322.9" rx="4.50" ry="2.7" fill="#fff" stroke="#000" stroke-width="1"/>
<line x1="710.5" y1="183.5" x2="719.5" y2="183.5" stroke="#000" stroke-width="0.9"/>
<line x1="710.5" y1="185.5" x2="719.5" y2="185.5" stroke="#000" stroke-width="0.9"/>
<path d="M765.5,323 L765.5,106.5 A5.00,2.2 0 0 1 775.5,106.5 L775.5,323" fill="#fff" stroke="#000" stroke-width="1"/>
<ellipse cx="770.5" cy="322.9" rx="5.00" ry="2.7" fill="#fff" stroke="#000" stroke-width="1"/>
<line x1="765.5" y1="200.5" x2="775.5" y2="200.5" stroke="#000" stroke-width="0.9"/>
<line x1="765.5" y1="202.5" x2="775.5" y2="202.5" stroke="#000" stroke-width="0.9"/>
<path d="M814.5,323 L814.5,106.5 A5.00,2.2 0 0 1 824.5,106.5 L824.5,323" fill="#fff" stroke="#000" stroke-width="1"/>
<ellipse cx="819.5" cy="322.9" rx="5.00" ry="2.7" fill="#fff" stroke="#000" stroke-width="1"/>
<line x1="814.5" y1="220.5" x2="824.5" y2="220.5" stroke="#000" stroke-width="0.9"/>
<line x1="814.5" y1="222.5" x2="824.5" y2="222.5" stroke="#000" stroke-width="0.9"/>
<text x="405.8" y="52" font-family="Liberation Sans, sans-serif" font-size="22.6" font-weight="normal" textLength="63.2" lengthAdjust="spacingAndGlyphs" fill="#000">30 см</text>
<text x="513.3" y="116.7" font-family="Liberation Sans, sans-serif" font-size="19.6" font-weight="normal" textLength="54.6" lengthAdjust="spacingAndGlyphs" fill="#000">12 см</text>
<text x="585" y="217.3" font-family="Liberation Sans, sans-serif" font-size="19.2" font-weight="normal" textLength="54.8" lengthAdjust="spacingAndGlyphs" fill="#000">26 см</text>
<text x="20.2" y="369.1" font-family="Liberation Sans, sans-serif" font-size="27.8" font-weight="normal" textLength="94" lengthAdjust="spacingAndGlyphs" fill="#000">169 см</text>
<text x="374.8" y="787.3" font-family="Liberation Sans, sans-serif" font-size="28.6" font-weight="normal" textLength="77.6" lengthAdjust="spacingAndGlyphs" fill="#000">80 см</text>
<text x="737.6" y="607.6" font-family="Liberation Sans, sans-serif" font-size="25.3" font-weight="normal" textLength="70.8" lengthAdjust="spacingAndGlyphs" fill="#000">30 см</text>
<text x="650.7" y="357" text-anchor="middle" font-family="Liberation Sans, sans-serif" font-size="26" font-weight="bold" fill="#000">A</text>
<text x="716.8" y="357" text-anchor="middle" font-family="Liberation Sans, sans-serif" font-size="26" font-weight="bold" fill="#000">B</text>
<text x="772.1" y="357" text-anchor="middle" font-family="Liberation Sans, sans-serif" font-size="26" font-weight="bold" fill="#000">C</text>
<text x="823.2" y="357" text-anchor="middle" font-family="Liberation Sans, sans-serif" font-size="26" font-weight="bold" fill="#000">D</text>
</svg>
</body></html>
